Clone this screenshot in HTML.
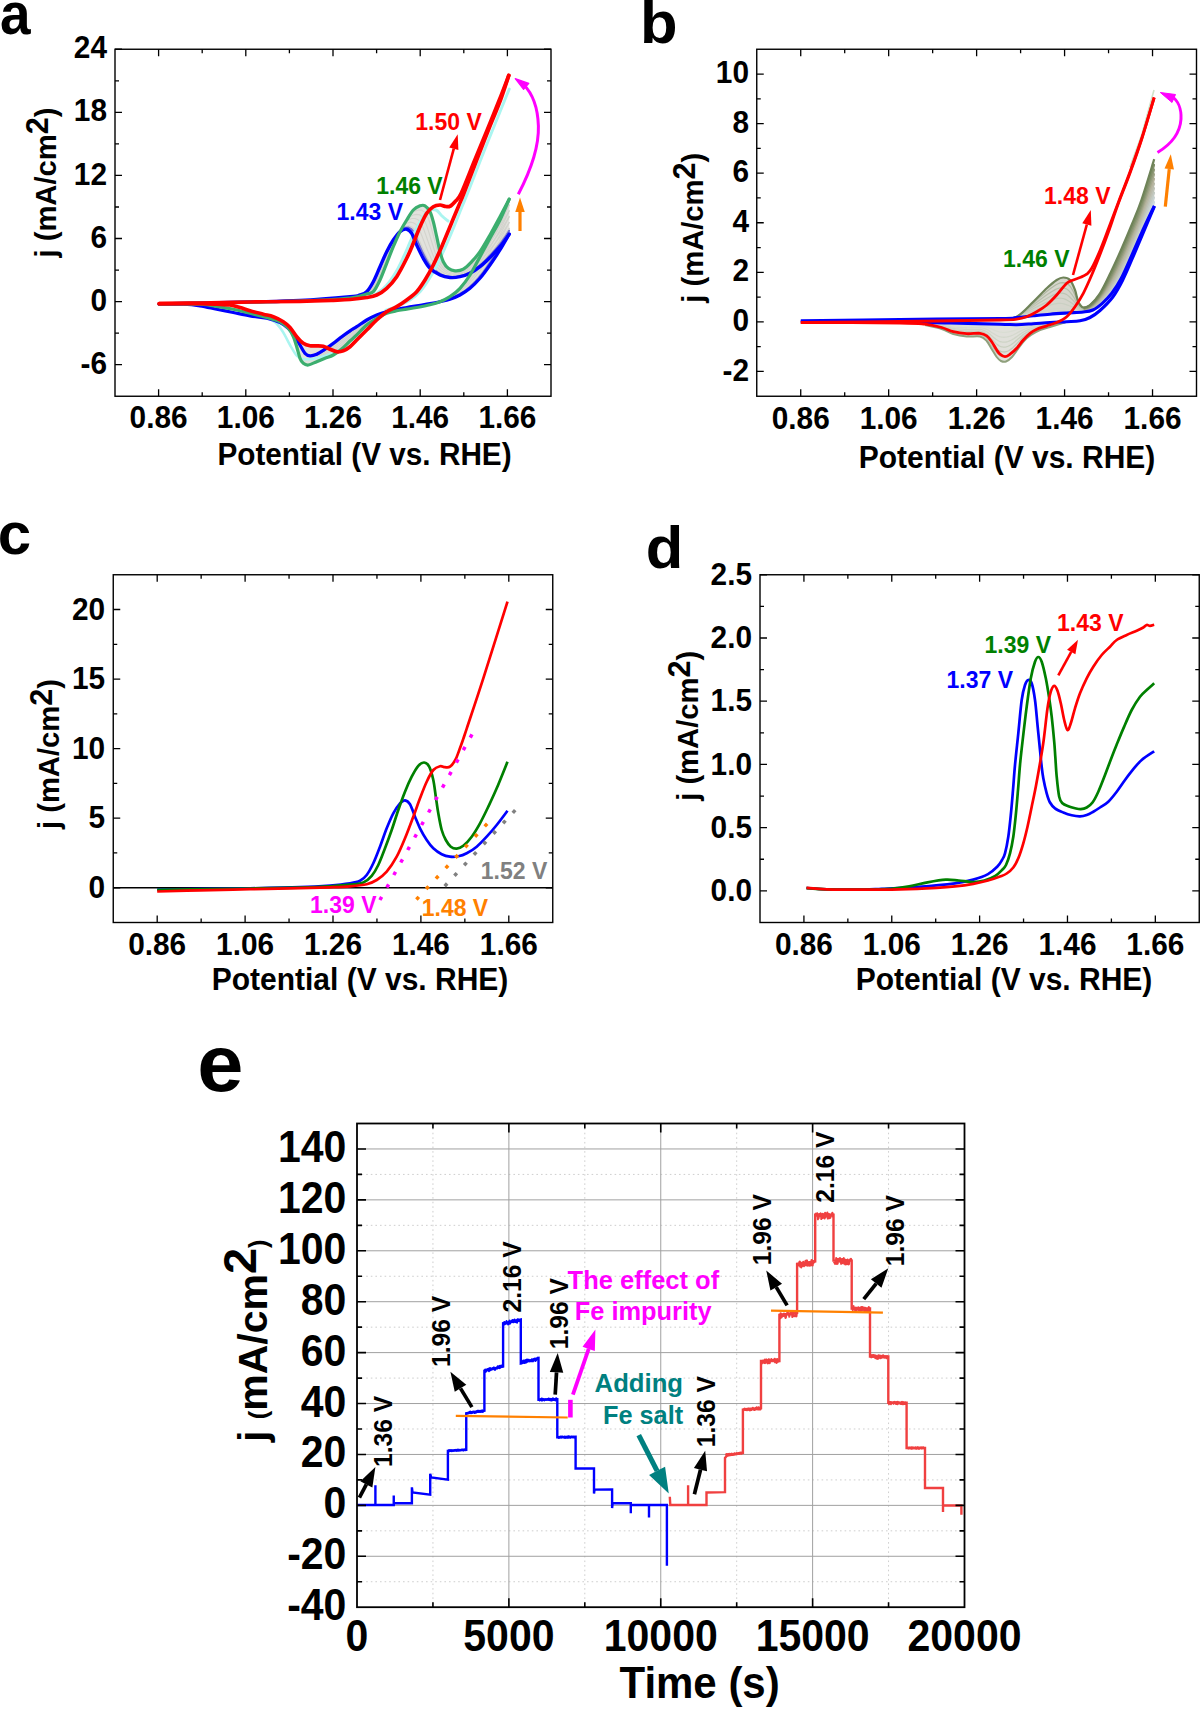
<!DOCTYPE html>
<html lang="en"><head><meta charset="utf-8"><title>Figure</title>
<style>
html,body{margin:0;padding:0;background:#fff;}
body{width:1200px;height:1709px;overflow:hidden;}
svg{display:block;font-family:"Liberation Sans",sans-serif;font-weight:bold;}
</style></head><body>
<svg width="1200" height="1709" viewBox="0 0 1200 1709">
<rect width="1200" height="1709" fill="#fff"/>
<rect x="115" y="49.25" width="436" height="347" fill="none" stroke="#000" stroke-width="1.4"/>
<path d="M158.6 396.25V389.25M158.6 49.25V56.25M245.8 396.25V389.25M245.8 49.25V56.25M333 396.25V389.25M333 49.25V56.25M420.2 396.25V389.25M420.2 49.25V56.25M507.4 396.25V389.25M507.4 49.25V56.25M202.2 396.25V392.25M202.2 49.25V53.25M289.4 396.25V392.25M289.4 49.25V53.25M376.6 396.25V392.25M376.6 49.25V53.25M463.8 396.25V392.25M463.8 49.25V53.25M115 364.7H122M551 364.7H544M115 301.61H122M551 301.61H544M115 238.52H122M551 238.52H544M115 175.43H122M551 175.43H544M115 112.34H122M551 112.34H544M115 49.25H122M551 49.25H544M115 333.16H119M551 333.16H547M115 270.07H119M551 270.07H547M115 206.98H119M551 206.98H547M115 143.89H119M551 143.89H547M115 80.8H119M551 80.8H547" stroke="#000" stroke-width="1.3" fill="none"/>
<text transform="translate(158.6 427.6) scale(1 1.06)" font-size="29.8" text-anchor="middle">0.86</text>
<text transform="translate(245.8 427.6) scale(1 1.06)" font-size="29.8" text-anchor="middle">1.06</text>
<text transform="translate(333 427.6) scale(1 1.06)" font-size="29.8" text-anchor="middle">1.26</text>
<text transform="translate(420.2 427.6) scale(1 1.06)" font-size="29.8" text-anchor="middle">1.46</text>
<text transform="translate(507.4 427.6) scale(1 1.06)" font-size="29.8" text-anchor="middle">1.66</text>
<text transform="translate(107 373.8) scale(1 1.06)" font-size="29.8" text-anchor="end">-6</text>
<text transform="translate(107 310.71) scale(1 1.06)" font-size="29.8" text-anchor="end">0</text>
<text transform="translate(107 247.62) scale(1 1.06)" font-size="29.8" text-anchor="end">6</text>
<text transform="translate(107 184.53) scale(1 1.06)" font-size="29.8" text-anchor="end">12</text>
<text transform="translate(107 121.44) scale(1 1.06)" font-size="29.8" text-anchor="end">18</text>
<text transform="translate(107 58.35) scale(1 1.06)" font-size="29.8" text-anchor="end">24</text>
<text transform="translate(364.5 465) scale(1 1.05)" font-size="29.75" text-anchor="middle">Potential (V vs. RHE)</text>
<text transform="translate(55.8 182.5) rotate(-90) scale(1 1.03)" font-size="29.2" text-anchor="middle">j (mA/cm<tspan dy="-7.3" font-size="30.66">2</tspan><tspan dy="7.3" font-size="29.2">)</tspan></text>
<text transform="translate(0 34.3) scale(1 1.09)" font-size="55">a</text>
<rect x="756.75" y="49.25" width="439.75" height="347" fill="none" stroke="#000" stroke-width="1.4"/>
<path d="M800.73 396.25V389.25M800.73 49.25V56.25M888.67 396.25V389.25M888.67 49.25V56.25M976.62 396.25V389.25M976.62 49.25V56.25M1064.58 396.25V389.25M1064.58 49.25V56.25M1152.53 396.25V389.25M1152.53 49.25V56.25M844.7 396.25V392.25M844.7 49.25V53.25M932.65 396.25V392.25M932.65 49.25V53.25M1020.6 396.25V392.25M1020.6 49.25V53.25M1108.55 396.25V392.25M1108.55 49.25V53.25M756.75 371.46H763.75M1196.5 371.46H1189.5M756.75 321.89H763.75M1196.5 321.89H1189.5M756.75 272.32H763.75M1196.5 272.32H1189.5M756.75 222.75H763.75M1196.5 222.75H1189.5M756.75 173.18H763.75M1196.5 173.18H1189.5M756.75 123.61H763.75M1196.5 123.61H1189.5M756.75 74.04H763.75M1196.5 74.04H1189.5M756.75 346.68H760.75M1196.5 346.68H1192.5M756.75 297.11H760.75M1196.5 297.11H1192.5M756.75 247.54H760.75M1196.5 247.54H1192.5M756.75 197.96H760.75M1196.5 197.96H1192.5M756.75 148.39H760.75M1196.5 148.39H1192.5M756.75 98.82H760.75M1196.5 98.82H1192.5" stroke="#000" stroke-width="1.3" fill="none"/>
<text transform="translate(800.73 429) scale(1 1.06)" font-size="29.8" text-anchor="middle">0.86</text>
<text transform="translate(888.67 429) scale(1 1.06)" font-size="29.8" text-anchor="middle">1.06</text>
<text transform="translate(976.62 429) scale(1 1.06)" font-size="29.8" text-anchor="middle">1.26</text>
<text transform="translate(1064.58 429) scale(1 1.06)" font-size="29.8" text-anchor="middle">1.46</text>
<text transform="translate(1152.53 429) scale(1 1.06)" font-size="29.8" text-anchor="middle">1.66</text>
<text transform="translate(749 380.56) scale(1 1.06)" font-size="29.8" text-anchor="end">-2</text>
<text transform="translate(749 330.99) scale(1 1.06)" font-size="29.8" text-anchor="end">0</text>
<text transform="translate(749 281.42) scale(1 1.06)" font-size="29.8" text-anchor="end">2</text>
<text transform="translate(749 231.85) scale(1 1.06)" font-size="29.8" text-anchor="end">4</text>
<text transform="translate(749 182.28) scale(1 1.06)" font-size="29.8" text-anchor="end">6</text>
<text transform="translate(749 132.71) scale(1 1.06)" font-size="29.8" text-anchor="end">8</text>
<text transform="translate(749 83.14) scale(1 1.06)" font-size="29.8" text-anchor="end">10</text>
<text transform="translate(1007 468) scale(1 1.05)" font-size="30" text-anchor="middle">Potential (V vs. RHE)</text>
<text transform="translate(702.5 227.7) rotate(-90) scale(1 1.03)" font-size="29.2" text-anchor="middle">j (mA/cm<tspan dy="-7.3" font-size="30.66">2</tspan><tspan dy="7.3" font-size="29.2">)</tspan></text>
<text transform="translate(640 42.5) scale(1 0.97)" font-size="61.5">b</text>
<rect x="113.25" y="574.75" width="439.5" height="347.75" fill="none" stroke="#000" stroke-width="1.4"/>
<path d="M157.2 922.5V915.5M157.2 574.75V581.75M245.1 922.5V915.5M245.1 574.75V581.75M333 922.5V915.5M333 574.75V581.75M420.9 922.5V915.5M420.9 574.75V581.75M508.8 922.5V915.5M508.8 574.75V581.75M201.15 922.5V918.5M201.15 574.75V578.75M289.05 922.5V918.5M289.05 574.75V578.75M376.95 922.5V918.5M376.95 574.75V578.75M464.85 922.5V918.5M464.85 574.75V578.75M113.25 887.73H120.25M552.75 887.73H545.75M113.25 818.17H120.25M552.75 818.17H545.75M113.25 748.62H120.25M552.75 748.62H545.75M113.25 679.08H120.25M552.75 679.08H545.75M113.25 609.52H120.25M552.75 609.52H545.75M113.25 852.95H117.25M552.75 852.95H548.75M113.25 783.4H117.25M552.75 783.4H548.75M113.25 713.85H117.25M552.75 713.85H548.75M113.25 644.3H117.25M552.75 644.3H548.75" stroke="#000" stroke-width="1.3" fill="none"/>
<text transform="translate(157.2 955) scale(1 1.06)" font-size="29.8" text-anchor="middle">0.86</text>
<text transform="translate(245.1 955) scale(1 1.06)" font-size="29.8" text-anchor="middle">1.06</text>
<text transform="translate(333 955) scale(1 1.06)" font-size="29.8" text-anchor="middle">1.26</text>
<text transform="translate(420.9 955) scale(1 1.06)" font-size="29.8" text-anchor="middle">1.46</text>
<text transform="translate(508.8 955) scale(1 1.06)" font-size="29.8" text-anchor="middle">1.66</text>
<text transform="translate(105.1 897.83) scale(1 1.06)" font-size="29.8" text-anchor="end">0</text>
<text transform="translate(105.1 828.27) scale(1 1.06)" font-size="29.8" text-anchor="end">5</text>
<text transform="translate(105.1 758.73) scale(1 1.06)" font-size="29.8" text-anchor="end">10</text>
<text transform="translate(105.1 689.18) scale(1 1.06)" font-size="29.8" text-anchor="end">15</text>
<text transform="translate(105.1 619.62) scale(1 1.06)" font-size="29.8" text-anchor="end">20</text>
<text transform="translate(360 990) scale(1 1.05)" font-size="30" text-anchor="middle">Potential (V vs. RHE)</text>
<text transform="translate(59.1 754) rotate(-90) scale(1 1.03)" font-size="29.2" text-anchor="middle">j (mA/cm<tspan dy="-7.3" font-size="30.66">2</tspan><tspan dy="7.3" font-size="29.2">)</tspan></text>
<text transform="translate(-2.3 553.5)" font-size="60">c</text>
<rect x="760" y="574.75" width="439.25" height="347.75" fill="none" stroke="#000" stroke-width="1.4"/>
<path d="M803.92 922.5V915.5M803.92 574.75V581.75M891.77 922.5V915.5M891.77 574.75V581.75M979.62 922.5V915.5M979.62 574.75V581.75M1067.47 922.5V915.5M1067.47 574.75V581.75M1155.33 922.5V915.5M1155.33 574.75V581.75M847.85 922.5V918.5M847.85 574.75V578.75M935.7 922.5V918.5M935.7 574.75V578.75M1023.55 922.5V918.5M1023.55 574.75V578.75M1111.4 922.5V918.5M1111.4 574.75V578.75M760 890.89H767M1199.25 890.89H1192.25M760 827.66H767M1199.25 827.66H1192.25M760 764.43H767M1199.25 764.43H1192.25M760 701.2H767M1199.25 701.2H1192.25M760 637.98H767M1199.25 637.98H1192.25M760 574.75H767M1199.25 574.75H1192.25M760 859.27H764M1199.25 859.27H1195.25M760 796.05H764M1199.25 796.05H1195.25M760 732.82H764M1199.25 732.82H1195.25M760 669.59H764M1199.25 669.59H1195.25M760 606.36H764M1199.25 606.36H1195.25" stroke="#000" stroke-width="1.3" fill="none"/>
<text transform="translate(803.92 955) scale(1 1.06)" font-size="29.8" text-anchor="middle">0.86</text>
<text transform="translate(891.77 955) scale(1 1.06)" font-size="29.8" text-anchor="middle">1.06</text>
<text transform="translate(979.62 955) scale(1 1.06)" font-size="29.8" text-anchor="middle">1.26</text>
<text transform="translate(1067.47 955) scale(1 1.06)" font-size="29.8" text-anchor="middle">1.46</text>
<text transform="translate(1155.33 955) scale(1 1.06)" font-size="29.8" text-anchor="middle">1.66</text>
<text transform="translate(752 900.99) scale(1 1.06)" font-size="29.8" text-anchor="end">0.0</text>
<text transform="translate(752 837.76) scale(1 1.06)" font-size="29.8" text-anchor="end">0.5</text>
<text transform="translate(752 774.53) scale(1 1.06)" font-size="29.8" text-anchor="end">1.0</text>
<text transform="translate(752 711.3) scale(1 1.06)" font-size="29.8" text-anchor="end">1.5</text>
<text transform="translate(752 648.08) scale(1 1.06)" font-size="29.8" text-anchor="end">2.0</text>
<text transform="translate(752 584.85) scale(1 1.06)" font-size="29.8" text-anchor="end">2.5</text>
<text transform="translate(1004 990) scale(1 1.05)" font-size="30" text-anchor="middle">Potential (V vs. RHE)</text>
<text transform="translate(698 725.8) rotate(-90) scale(1 1.03)" font-size="29.2" text-anchor="middle">j (mA/cm<tspan dy="-7.3" font-size="30.66">2</tspan><tspan dy="7.3" font-size="29.2">)</tspan></text>
<text transform="translate(645.7 567.5) scale(1 0.955)" font-size="61.5">d</text>
<path d="M432.94 1123.5V1607.2M584.81 1123.5V1607.2M736.69 1123.5V1607.2M888.56 1123.5V1607.2M357 1581.74H964.5M357 1530.83H964.5M357 1479.91H964.5M357 1428.99H964.5M357 1378.08H964.5M357 1327.16H964.5M357 1276.25H964.5M357 1225.33H964.5M357 1174.42H964.5" stroke="#cecece" stroke-width="1" stroke-dasharray="1.6 3" fill="none"/>
<path d="M508.88 1123.5V1607.2M660.75 1123.5V1607.2M812.62 1123.5V1607.2M357 1556.28H964.5M357 1505.37H964.5M357 1454.45H964.5M357 1403.54H964.5M357 1352.62H964.5M357 1301.71H964.5M357 1250.79H964.5M357 1199.87H964.5M357 1148.96H964.5" stroke="#a0a0a0" stroke-width="1" fill="none"/>
<g><path d="M366.7 291.7C367.8 290.03 371.08 285.87 373.3 281.7C375.52 277.53 377.77 271.7 380 266.7C382.23 261.7 384.48 256.15 386.7 251.7C388.92 247.25 391.08 243.33 393.3 240C395.52 236.67 397.77 233.5 400 231.7C402.23 229.9 404.75 228.93 406.7 229.2C408.65 229.47 410.03 230.67 411.7 233.3C413.37 235.93 414.77 240.83 416.7 245C418.63 249.17 421.08 254.42 423.3 258.3C425.52 262.18 427.22 265.52 430 268.3C432.78 271.08 436.67 273.47 440 275C443.33 276.53 446.67 277.22 450 277.5C453.33 277.78 456.67 277.4 460 276.7C463.33 276 466.67 274.97 470 273.3C473.33 271.63 476.67 269.33 480 266.7C483.33 264.07 486.67 260.83 490 257.5C493.33 254.17 496.8 250.58 500 246.7C503.2 242.82 507.67 236.28 509.2 234.2L509.2 199.2C507.67 202.12 503.2 210.73 500 216.7C496.8 222.67 493.33 229.17 490 235C486.67 240.83 483.05 247.25 480 251.7C476.95 256.15 474.48 258.78 471.7 261.7C468.92 264.62 466.08 267.68 463.3 269.2C460.52 270.72 457.5 270.95 455 270.8C452.5 270.65 450.25 269.82 448.3 268.3C446.35 266.78 444.68 264.47 443.3 261.7C441.92 258.93 441.1 255.87 440 251.7C438.9 247.53 437.82 241.7 436.7 236.7C435.58 231.7 434.42 225.87 433.3 221.7C432.18 217.53 431.38 214.35 430 211.7C428.62 209.05 426.67 206.78 425 205.8C423.33 204.82 421.95 205.1 420 205.8C418.05 206.5 415.52 207.63 413.3 210C411.08 212.37 408.92 216.38 406.7 220C404.48 223.62 402.23 227.25 400 231.7C397.77 236.15 395.52 241.43 393.3 246.7C391.08 251.97 388.92 257.75 386.7 263.3C384.48 268.85 382.23 275.27 380 280C377.77 284.73 374.42 289.75 373.3 291.7Z" fill="#e2e2dd" fill-opacity="1" stroke="none"/>
<path d="M509.2 234.2C507.67 236.83 503.2 244.87 500 250C496.8 255.13 493.33 260.28 490 265C486.67 269.72 483.33 274.42 480 278.3C476.67 282.18 473.33 285.52 470 288.3C466.67 291.08 463.33 293.18 460 295C456.67 296.82 453.33 298.08 450 299.2C446.67 300.32 443.33 300.95 440 301.7C436.67 302.45 433.88 303.02 430 303.7C426.12 304.38 420.58 305.17 416.7 305.8C412.82 306.43 410.03 306.93 406.7 307.5C403.37 308.07 400.03 308.5 396.7 309.2C393.37 309.9 390.03 310.73 386.7 311.7C383.37 312.67 380.03 313.62 376.7 315C373.37 316.38 370.03 318.05 366.7 320C363.37 321.95 359.48 324.9 356.7 326.7C353.92 328.5 352.5 329.13 350 330.8C347.5 332.47 344.48 334.62 341.7 336.7C338.92 338.78 336.08 341.22 333.3 343.3C330.52 345.38 327.77 347.38 325 349.2C322.23 351.02 318.08 353.37 316.7 354.2L316.7 361.7C318.08 361.13 322.23 359.42 325 358.3C327.77 357.18 330.52 356.55 333.3 355C336.08 353.45 338.92 351.33 341.7 349C344.48 346.67 347.5 343.33 350 341C352.5 338.67 353.92 337.67 356.7 335C359.48 332.33 363.37 327.78 366.7 325C370.03 322.22 373.37 320.25 376.7 318.3C380.03 316.35 383.37 314.55 386.7 313.3C390.03 312.05 393.37 311.48 396.7 310.8C400.03 310.12 403.37 309.75 406.7 309.2C410.03 308.65 412.82 308.25 416.7 307.5C420.58 306.75 426.12 305.67 430 304.7C433.88 303.73 436.67 303.03 440 301.7C443.33 300.37 446.67 298.93 450 296.7C453.33 294.47 456.67 291.92 460 288.3C463.33 284.68 466.67 280.27 470 275C473.33 269.73 476.67 262.82 480 256.7C483.33 250.58 486.67 244.42 490 238.3C493.33 232.18 496.8 226.52 500 220C503.2 213.48 507.67 202.67 509.2 199.2Z" fill="#e2e2dd" fill-opacity="1" stroke="none"/>
<path d="M341.7 336.7C340.3 337.8 336.08 341.22 333.3 343.3C330.52 345.38 327.77 347.38 325 349.2C322.23 351.02 319.2 353.1 316.7 354.2C314.2 355.3 311.95 355.95 310 355.8C308.05 355.65 306.67 355.1 305 353.3C303.33 351.5 301.67 347.77 300 345C298.33 342.23 296.95 339.48 295 336.7C293.05 333.92 290.8 330.67 288.3 328.3C285.8 325.93 283.6 324.17 280 322.5C276.4 320.83 271.7 319.42 266.7 318.3C261.7 317.18 255.57 316.77 250 315.8C244.43 314.83 236.08 313.05 233.3 312.5L250 313.3C252.78 314 261.7 316.1 266.7 317.5C271.7 318.9 276.4 319.9 280 321.7C283.6 323.5 286.08 325.8 288.3 328.3C290.52 330.8 291.9 333.63 293.3 336.7C294.7 339.77 295.58 343.1 296.7 346.7C297.82 350.3 298.9 355.53 300 358.3C301.1 361.07 301.92 362.18 303.3 363.3C304.68 364.42 306.07 365.27 308.3 365C310.53 364.73 313.92 362.82 316.7 361.7C319.48 360.58 322.23 359.42 325 358.3C327.77 357.18 330.52 356.55 333.3 355C336.08 353.45 340.3 350 341.7 349Z" fill="#e2e2dd" fill-opacity="1" stroke="none"/>
<path d="M330 349.2C328.88 348.72 325.52 346.87 323.3 346.3C321.08 345.73 318.92 345.88 316.7 345.8C314.48 345.72 312.23 346.22 310 345.8C307.77 345.38 305.52 344.82 303.3 343.3C301.08 341.78 298.92 339.33 296.7 336.7C294.48 334.07 292.23 330 290 327.5C287.77 325 286.08 323.5 283.3 321.7C280.52 319.9 276.63 317.95 273.3 316.7C269.97 315.45 264.97 314.62 263.3 314.2L233.3 312.5C236.08 313.05 244.43 314.83 250 315.8C255.57 316.77 261.7 317.18 266.7 318.3C271.7 319.42 276.4 320.83 280 322.5C283.6 324.17 285.8 325.93 288.3 328.3C290.8 330.67 293.05 333.92 295 336.7C296.95 339.48 298.33 342.23 300 345C301.67 347.77 303.33 351.5 305 353.3C306.67 355.1 308.05 355.65 310 355.8C311.95 355.95 315.58 354.47 316.7 354.2Z" fill="#e4e4de" fill-opacity="1" stroke="none"/>
<path d="M367.8 291.7L369.69 288.95L371.56 286.19L373.32 283.36L374.9 280.43L376.31 277.41L377.64 274.35L378.93 271.27L380.22 268.19L381.53 265.13L382.84 262.06L384.15 258.99L385.47 255.93L386.82 252.88L388.23 249.86L389.72 246.87L391.26 243.92L392.89 241.01L394.62 238.16L396.45 235.37L398.38 232.66L400.49 230.08L402.92 227.85L405.74 226.22L408.88 225.75L411.66 226.93L413.86 228.98L415.56 231.73L416.95 234.73L418.22 237.81L419.49 240.89L420.8 243.95L422.12 247.01L423.45 250.05L424.83 253.06L426.28 256.04L427.76 259L429.35 261.89L431.18 264.61L433.3 267.06L435.63 269.28L438.12 271.3L440.8 273.1L443.68 274.59L446.78 275.67L450.03 276.29L453.36 276.46L456.68 276.18L459.92 275.49L463.04 274.49L466.07 273.26L469.02 271.82L471.86 270.16L474.58 268.29L477.18 266.26L479.69 264.11L482.11 261.87L484.46 259.53L486.74 257.13L488.98 254.69L491.2 252.23L493.39 249.74L495.55 247.21L497.66 244.65L499.71 242.04L501.69 239.37L503.6 236.64L505.48 233.89L507.34 231.13L509.2 228.37" fill="none" stroke="#d3d3cd" stroke-width="1.1" stroke-linejoin="round" stroke-linecap="round"/>
<path d="M509.2 228.37L507.24 231.97L505.29 235.57L503.31 239.16L501.29 242.72L499.21 246.25L497.05 249.74L494.85 253.19L492.59 256.62L490.31 260.02L488.01 263.41L485.69 266.79L483.31 270.12L480.85 273.39L478.28 276.57L475.62 279.66L472.84 282.63L469.95 285.47L466.89 288.13L463.68 290.58L460.34 292.83L456.86 294.84L453.25 296.62L449.56 298.2L445.75 299.51L441.88 300.69L437.98 301.81L434.02 302.79L430.03 303.66L426.01 304.42L421.97 305.12L417.93 305.82L413.89 306.53L409.85 307.24L405.81 307.93L401.76 308.58L397.72 309.31L393.71 310.17L389.73 311.15L385.77 312.23L381.85 313.44L378.02 314.88L374.29 316.58L370.64 318.46L367.09 320.5L363.67 322.77L360.36 325.18L357.06 327.6L353.67 329.87L350.29 332.16L346.97 334.56L343.71 337.05L340.51 339.61L337.33 342.2L334.1 344.72L330.78 347.12L327.35 349.36L323.85 351.45L320.28 353.47L316.7 355.45" fill="none" stroke="#d3d3cd" stroke-width="1.1" stroke-linejoin="round" stroke-linecap="round"/>
<path d="M368.9 291.7L370.83 288.83L372.73 285.94L374.51 282.98L376.11 279.92L377.54 276.77L378.89 273.59L380.2 270.39L381.52 267.19L382.86 264L384.2 260.82L385.54 257.62L386.89 254.44L388.28 251.27L389.72 248.13L391.22 245.02L392.79 241.93L394.44 238.9L396.2 235.92L398.07 233.01L400.02 230.16L402.12 227.43L404.48 224.97L407.2 223.03L410.31 222.14L413.25 222.73L415.77 224.23L417.8 226.82L419.4 229.85L420.77 233.02L422.03 236.23L423.28 239.44L424.53 242.65L425.77 245.86L427.04 249.04L428.37 252.19L429.72 255.34L431.15 258.42L432.79 261.37L434.67 264.1L436.74 266.64L438.99 269L441.48 271.15L444.24 272.98L447.32 274.36L450.66 275.14L454.1 275.33L457.54 274.98L460.83 274.08L463.94 272.78L466.92 271.24L469.82 269.51L472.63 267.6L475.3 265.48L477.84 263.21L480.27 260.83L482.62 258.36L484.89 255.81L487.11 253.2L489.3 250.56L491.45 247.9L493.59 245.21L495.69 242.5L497.75 239.76L499.77 236.97L501.73 234.13L503.62 231.26L505.49 228.36L507.35 225.44L509.2 222.53" fill="none" stroke="#d3d3cd" stroke-width="1.1" stroke-linejoin="round" stroke-linecap="round"/>
<path d="M509.2 222.53L507.28 226.24L505.35 229.96L503.41 233.66L501.43 237.34L499.38 240.98L497.24 244.58L495.04 248.14L492.8 251.67L490.52 255.18L488.25 258.69L485.96 262.18L483.62 265.64L481.22 269.06L478.74 272.39L476.17 275.66L473.53 278.85L470.79 281.92L467.91 284.83L464.88 287.57L461.7 290.12L458.38 292.47L454.93 294.59L451.36 296.52L447.64 298.18L443.83 299.67L439.94 301.06L435.97 302.25L431.94 303.3L427.87 304.2L423.76 304.99L419.65 305.76L415.53 306.51L411.41 307.26L407.28 307.97L403.15 308.64L399.03 309.37L394.93 310.19L390.85 311.13L386.8 312.19L382.8 313.42L378.9 314.94L375.12 316.73L371.42 318.69L367.81 320.8L364.35 323.15L361.03 325.7L357.77 328.28L354.43 330.75L351.06 333.2L347.72 335.72L344.46 338.34L341.26 341.02L338.04 343.7L334.74 346.27L331.31 348.67L327.75 350.84L324.1 352.82L320.41 354.77L316.7 356.7" fill="none" stroke="#d3d3cd" stroke-width="1.1" stroke-linejoin="round" stroke-linecap="round"/>
<path d="M370 291.7L371.96 288.7L373.89 285.69L375.7 282.6L377.32 279.41L378.77 276.14L380.14 272.83L381.48 269.51L382.83 266.19L384.2 262.88L385.56 259.57L386.92 256.25L388.3 252.95L389.73 249.66L391.2 246.4L392.72 243.16L394.31 239.95L395.99 236.79L397.78 233.69L399.68 230.65L401.66 227.67L403.74 224.77L406.03 222.09L408.67 219.85L411.75 218.54L414.83 218.54L417.68 219.48L420.04 221.92L421.84 224.96L423.31 228.22L424.57 231.57L425.77 234.93L426.94 238.3L428.09 241.67L429.25 245.02L430.46 248.35L431.68 251.67L432.96 254.95L434.39 258.13L436.04 261.14L437.85 263.99L439.86 266.7L442.16 269.2L444.8 271.38L447.86 273.05L451.28 274L454.85 274.2L458.39 273.78L461.75 272.67L464.84 271.07L467.77 269.21L470.63 267.2L473.4 265.03L476.02 262.67L478.49 260.16L480.85 257.54L483.12 254.85L485.32 252.08L487.48 249.27L489.61 246.43L491.71 243.57L493.79 240.69L495.83 237.79L497.85 234.86L499.83 231.9L501.76 228.9L503.64 225.87L505.5 222.82L507.35 219.76L509.2 216.7" fill="none" stroke="#d3d3cd" stroke-width="1.1" stroke-linejoin="round" stroke-linecap="round"/>
<path d="M509.2 216.7L507.31 220.52L505.42 224.35L503.51 228.16L501.56 231.96L499.54 235.71L497.43 239.42L495.24 243.08L493 246.72L490.74 250.34L488.48 253.96L486.23 257.57L483.94 261.17L481.6 264.72L479.19 268.22L476.73 271.67L474.23 275.06L471.64 278.36L468.93 281.54L466.07 284.56L463.06 287.42L459.9 290.09L456.6 292.56L453.16 294.84L449.53 296.85L445.77 298.65L441.91 300.31L437.92 301.72L433.86 302.94L429.73 303.98L425.55 304.86L421.37 305.69L417.17 306.49L412.97 307.27L408.76 308.01L404.55 308.69L400.34 309.42L396.14 310.2L391.97 311.12L387.83 312.15L383.74 313.4L379.78 315L375.95 316.87L372.2 318.91L368.53 321.1L365.03 323.54L361.71 326.21L358.47 328.96L355.18 331.63L351.82 334.24L348.47 336.88L345.21 339.62L342.01 342.44L338.75 345.19L335.37 347.81L331.85 350.23L328.15 352.31L324.34 354.18L320.53 356.07L316.7 357.95" fill="none" stroke="#d3d3cd" stroke-width="1.1" stroke-linejoin="round" stroke-linecap="round"/>
<path d="M371.1 291.7L373.09 288.58L375.05 285.44L376.89 282.22L378.53 278.9L380 275.5L381.39 272.07L382.76 268.62L384.14 265.18L385.53 261.75L386.92 258.32L388.31 254.88L389.72 251.46L391.18 248.05L392.68 244.66L394.23 241.3L395.84 237.96L397.54 234.67L399.37 231.45L401.3 228.29L403.3 225.18L405.37 222.12L407.59 219.21L410.13 216.66L413.18 214.93L416.41 214.35L419.59 214.72L422.27 217.01L424.29 220.08L425.86 223.42L427.11 226.91L428.25 230.42L429.35 233.94L430.41 237.47L431.46 241L432.55 244.5L433.64 248.01L434.76 251.49L435.99 254.89L437.41 258.17L438.97 261.35L440.72 264.4L442.84 267.25L445.36 269.77L448.4 271.73L451.9 272.85L455.59 273.08L459.25 272.58L462.67 271.27L465.74 269.36L468.62 267.19L471.44 264.89L474.16 262.46L476.73 259.86L479.14 257.12L481.43 254.26L483.62 251.34L485.76 248.35L487.85 245.34L489.92 242.3L491.97 239.25L493.98 236.17L495.98 233.08L497.95 229.97L499.89 226.83L501.79 223.67L503.66 220.48L505.52 217.28L507.36 214.07L509.2 210.87" fill="none" stroke="#d3d3cd" stroke-width="1.1" stroke-linejoin="round" stroke-linecap="round"/>
<path d="M509.2 210.87L507.34 214.8L505.49 218.74L503.62 222.67L501.7 226.57L499.71 230.44L497.61 234.26L495.43 238.03L493.2 241.76L490.95 245.49L488.72 249.23L486.5 252.97L484.25 256.69L481.97 260.38L479.64 264.04L477.29 267.67L474.92 271.27L472.49 274.8L469.95 278.24L467.27 281.55L464.42 284.71L461.43 287.71L458.27 290.53L454.95 293.16L451.42 295.51L447.72 297.63L443.88 299.56L439.87 301.18L435.77 302.58L431.59 303.75L427.35 304.73L423.09 305.63L418.81 306.47L414.53 307.29L410.24 308.05L405.94 308.75L401.64 309.47L397.35 310.22L393.09 311.11L388.85 312.11L384.69 313.38L380.67 315.06L376.78 317.01L372.97 319.13L369.26 321.4L365.71 323.93L362.38 326.73L359.17 329.65L355.93 332.51L352.59 335.28L349.22 338.03L345.96 340.91L342.75 343.85L339.45 346.69L336.01 349.36L332.39 351.79L328.55 353.79L324.59 355.54L320.65 357.37L316.7 359.2" fill="none" stroke="#d3d3cd" stroke-width="1.1" stroke-linejoin="round" stroke-linecap="round"/>
<path d="M372.2 291.7L374.23 288.45L376.22 285.18L378.08 281.84L379.74 278.39L381.23 274.87L382.64 271.31L384.03 267.74L385.44 264.18L386.87 260.63L388.28 257.07L389.7 253.51L391.14 249.97L392.63 246.44L394.16 242.93L395.73 239.44L397.36 235.98L399.09 232.56L400.95 229.21L402.91 225.93L404.94 222.69L406.99 219.46L409.14 216.33L411.59 213.47L414.61 211.32L417.99 210.15L421.5 209.97L424.51 212.11L426.74 215.19L428.41 218.63L429.64 222.25L430.74 225.91L431.76 229.59L432.73 233.28L433.67 236.98L434.64 240.66L435.6 244.34L436.56 248.02L437.6 251.65L438.78 255.21L440.08 258.7L441.59 262.1L443.52 265.3L445.92 268.17L448.94 270.42L452.52 271.7L456.33 271.95L460.11 271.37L463.58 269.86L466.64 267.64L469.48 265.16L472.25 262.58L474.93 259.9L477.45 257.06L479.8 254.07L482.01 250.98L484.13 247.82L486.19 244.63L488.22 241.41L490.23 238.17L492.22 234.92L494.18 231.65L496.12 228.37L498.04 225.07L499.95 221.76L501.83 218.44L503.68 215.09L505.53 211.74L507.36 208.39L509.2 205.03" fill="none" stroke="#d3d3cd" stroke-width="1.1" stroke-linejoin="round" stroke-linecap="round"/>
<path d="M509.2 205.03L507.38 209.08L505.56 213.13L503.72 217.17L501.83 221.19L499.88 225.17L497.8 229.1L495.63 232.97L493.4 236.81L491.16 240.65L488.96 244.5L486.76 248.36L484.56 252.21L482.34 256.05L480.1 259.87L477.85 263.67L475.61 267.48L473.34 271.25L470.98 274.95L468.46 278.54L465.78 282L462.95 285.33L459.95 288.5L456.75 291.48L453.31 294.18L449.66 296.61L445.84 298.81L441.82 300.65L437.68 302.22L433.45 303.53L429.14 304.6L424.81 305.57L420.45 306.45L416.09 307.3L411.72 308.1L407.34 308.81L402.95 309.52L398.57 310.23L394.21 311.09L389.88 312.07L385.63 313.37L381.55 315.12L377.61 317.16L373.75 319.36L369.98 321.7L366.39 324.32L363.05 327.24L359.87 330.33L356.68 333.39L353.36 336.32L349.97 339.19L346.71 342.2L343.5 345.26L340.16 348.19L336.64 350.9L332.93 353.34L328.95 355.26L324.83 356.91L320.77 358.68L316.7 360.45" fill="none" stroke="#d3d3cd" stroke-width="1.1" stroke-linejoin="round" stroke-linecap="round"/>
<path d="M367.36 291.7L369.24 289.01L371.1 286.29L372.84 283.51L374.42 280.63L375.82 277.66L377.14 274.65L378.42 271.62L379.69 268.6L381 265.58L382.3 262.56L383.59 259.54L384.9 256.53L386.24 253.53L387.64 250.55L389.12 247.62L390.65 244.71L392.27 241.85L393.99 239.06L395.81 236.32L397.73 233.65L399.84 231.15L402.3 229.01L405.16 227.5L408.31 227.2L411.03 228.61L413.09 230.88L414.67 233.69L415.97 236.69L417.2 239.73L418.48 242.76L419.81 245.76L421.15 248.75L422.52 251.72L423.95 254.67L425.45 257.58L426.98 260.47L428.63 263.28L430.54 265.9L432.75 268.25L435.18 270.34L437.78 272.22L440.53 273.88L443.46 275.23L446.56 276.2L449.79 276.75L453.07 276.91L456.34 276.66L459.55 276.05L462.67 275.17L465.72 274.07L468.69 272.74L471.56 271.19L474.3 269.41L476.92 267.48L479.46 265.42L481.91 263.27L484.28 261.02L486.59 258.71L488.86 256.34L491.1 253.96L493.31 251.54L495.49 249.1L497.62 246.61L499.69 244.07L501.68 241.46L503.6 238.8L505.48 236.11L507.34 233.4L509.2 230.7" fill="none" stroke="#6f6fd0" stroke-width="1.6" stroke-linejoin="round" stroke-linecap="round"/>
<path d="M509.2 230.7L507.23 234.25L505.26 237.81L503.27 241.35L501.24 244.88L499.14 248.36L496.98 251.8L494.77 255.22L492.51 258.6L490.22 261.96L487.91 265.3L485.58 268.63L483.19 271.91L480.7 275.13L478.1 278.24L475.39 281.26L472.57 284.15L469.61 286.9L466.48 289.45L463.2 291.78L459.79 293.91L456.25 295.79L452.59 297.44L448.84 298.87L444.99 300.05L441.1 301.1L437.19 302.11L433.24 303.01L429.26 303.8L425.26 304.51L421.25 305.18L417.24 305.84L413.23 306.54L409.22 307.24L405.21 307.91L401.2 308.55L397.2 309.29L393.23 310.16L389.28 311.15L385.36 312.24L381.48 313.44L377.67 314.86L373.96 316.52L370.33 318.37L366.8 320.38L363.4 322.61L360.09 324.97L356.78 327.32L353.37 329.52L349.98 331.75L346.67 334.1L343.41 336.53L340.21 339.04L337.05 341.6L333.85 344.1L330.56 346.5L327.2 348.77L323.75 350.91L320.24 352.95L316.7 354.95" fill="none" stroke="#6f6fd0" stroke-width="1.6" stroke-linejoin="round" stroke-linecap="round"/>
<path d="M509.3 89C506.52 95.83 497.38 118.17 492.6 130C487.82 141.83 484.77 149.45 480.6 160C476.43 170.55 470.7 185.52 467.6 193.3C464.5 201.08 464.27 201.13 462 206.7C459.73 212.27 456.75 220.03 454 226.7C451.25 233.37 448.33 240.32 445.5 246.7C442.67 253.08 439.83 259.45 437 265C434.17 270.55 431.33 275.55 428.5 280C425.67 284.45 423.08 288.37 420 291.7C416.92 295.03 413.67 297.62 410 300C406.33 302.38 402 304.33 398 306C394 307.67 388 309.33 386 310" fill="none" stroke="#aaf5f0" stroke-width="2.9" stroke-linejoin="round" stroke-linecap="round"/>
<path d="M376 294C377.67 292.67 382.67 289.67 386 286C389.33 282.33 393 277 396 272C399 267 401.33 261.67 404 256C406.67 250.33 409.33 243.67 412 238C414.67 232.33 417.33 226.5 420 222C422.67 217.5 425.33 213 428 211C430.67 209 433.67 209.17 436 210C438.33 210.83 440 214.17 442 216C444 217.83 447 220.17 448 221" fill="none" stroke="#aaf5f0" stroke-width="3" stroke-linejoin="round" stroke-linecap="round"/>
<path d="M268 318C269.33 318.83 273.5 320.67 276 323C278.5 325.33 280.67 328.33 283 332C285.33 335.67 287.67 341 290 345C292.33 349 294.83 353.67 297 356C299.17 358.33 300.5 358.5 303 359C305.5 359.5 308.33 359.5 312 359C315.67 358.5 320.33 357.5 325 356C329.67 354.5 337.5 351 340 350" fill="none" stroke="#aaf5f0" stroke-width="2.5" stroke-linejoin="round" stroke-linecap="round"/>
<path d="M159.2 304C174.33 303.67 226.53 302.58 250 302C273.47 301.42 283.33 301.38 300 300.5C316.67 299.62 340 297.62 350 296.7C360 295.78 357.22 295.83 360 295C362.78 294.17 364.48 293.92 366.7 291.7C368.92 289.48 371.08 285.87 373.3 281.7C375.52 277.53 377.77 271.7 380 266.7C382.23 261.7 384.48 256.15 386.7 251.7C388.92 247.25 391.08 243.33 393.3 240C395.52 236.67 397.77 233.5 400 231.7C402.23 229.9 404.75 228.93 406.7 229.2C408.65 229.47 410.03 230.67 411.7 233.3C413.37 235.93 414.77 240.83 416.7 245C418.63 249.17 421.08 254.42 423.3 258.3C425.52 262.18 427.22 265.52 430 268.3C432.78 271.08 436.67 273.47 440 275C443.33 276.53 446.67 277.22 450 277.5C453.33 277.78 456.67 277.4 460 276.7C463.33 276 466.67 274.97 470 273.3C473.33 271.63 476.67 269.33 480 266.7C483.33 264.07 486.67 260.83 490 257.5C493.33 254.17 496.8 250.58 500 246.7C503.2 242.82 507.67 236.28 509.2 234.2" fill="none" stroke="#0000ff" stroke-width="3.4" stroke-linejoin="round" stroke-linecap="round"/>
<path d="M509.2 234.2C507.67 236.83 503.2 244.87 500 250C496.8 255.13 493.33 260.28 490 265C486.67 269.72 483.33 274.42 480 278.3C476.67 282.18 473.33 285.52 470 288.3C466.67 291.08 463.33 293.18 460 295C456.67 296.82 453.33 298.08 450 299.2C446.67 300.32 443.33 300.95 440 301.7C436.67 302.45 433.88 303.02 430 303.7C426.12 304.38 420.58 305.17 416.7 305.8C412.82 306.43 410.03 306.93 406.7 307.5C403.37 308.07 400.03 308.5 396.7 309.2C393.37 309.9 390.03 310.73 386.7 311.7C383.37 312.67 380.03 313.62 376.7 315C373.37 316.38 370.03 318.05 366.7 320C363.37 321.95 359.48 324.9 356.7 326.7C353.92 328.5 352.5 329.13 350 330.8C347.5 332.47 344.48 334.62 341.7 336.7C338.92 338.78 336.08 341.22 333.3 343.3C330.52 345.38 327.77 347.38 325 349.2C322.23 351.02 319.2 353.1 316.7 354.2C314.2 355.3 311.95 355.95 310 355.8C308.05 355.65 306.67 355.1 305 353.3C303.33 351.5 301.67 347.77 300 345C298.33 342.23 296.95 339.48 295 336.7C293.05 333.92 290.8 330.67 288.3 328.3C285.8 325.93 283.6 324.17 280 322.5C276.4 320.83 271.7 319.42 266.7 318.3C261.7 317.18 255.57 316.77 250 315.8C244.43 314.83 238.85 313.6 233.3 312.5C227.75 311.4 222.25 310.32 216.7 309.2C211.15 308.08 205.57 306.63 200 305.8C194.43 304.97 190.1 304.47 183.3 304.2C176.5 303.93 163.22 304.2 159.2 304.2" fill="none" stroke="#0000ff" stroke-width="3.2" stroke-linejoin="round" stroke-linecap="round"/>
<path d="M159.2 303.9C182.67 303.42 268.2 301.98 300 301C331.8 300.02 338.88 299.17 350 298C361.12 296.83 362.82 295.05 366.7 294C370.58 292.95 371.08 294.03 373.3 291.7C375.52 289.37 377.77 284.73 380 280C382.23 275.27 384.48 268.85 386.7 263.3C388.92 257.75 391.08 251.97 393.3 246.7C395.52 241.43 397.77 236.15 400 231.7C402.23 227.25 404.48 223.62 406.7 220C408.92 216.38 411.08 212.37 413.3 210C415.52 207.63 418.05 206.5 420 205.8C421.95 205.1 423.33 204.82 425 205.8C426.67 206.78 428.62 209.05 430 211.7C431.38 214.35 432.18 217.53 433.3 221.7C434.42 225.87 435.58 231.7 436.7 236.7C437.82 241.7 438.9 247.53 440 251.7C441.1 255.87 441.92 258.93 443.3 261.7C444.68 264.47 446.35 266.78 448.3 268.3C450.25 269.82 452.5 270.65 455 270.8C457.5 270.95 460.52 270.72 463.3 269.2C466.08 267.68 468.92 264.62 471.7 261.7C474.48 258.78 476.95 256.15 480 251.7C483.05 247.25 486.67 240.83 490 235C493.33 229.17 496.8 222.67 500 216.7C503.2 210.73 507.67 202.12 509.2 199.2" fill="none" stroke="#3cae6e" stroke-width="3.2" stroke-linejoin="round" stroke-linecap="round"/>
<path d="M509.2 199.2C507.67 202.67 503.2 213.48 500 220C496.8 226.52 493.33 232.18 490 238.3C486.67 244.42 483.33 250.58 480 256.7C476.67 262.82 473.33 269.73 470 275C466.67 280.27 463.33 284.68 460 288.3C456.67 291.92 453.33 294.47 450 296.7C446.67 298.93 443.33 300.37 440 301.7C436.67 303.03 433.88 303.73 430 304.7C426.12 305.67 420.58 306.75 416.7 307.5C412.82 308.25 410.03 308.65 406.7 309.2C403.37 309.75 400.03 310.12 396.7 310.8C393.37 311.48 390.03 312.05 386.7 313.3C383.37 314.55 380.03 316.35 376.7 318.3C373.37 320.25 370.03 322.22 366.7 325C363.37 327.78 359.48 332.33 356.7 335C353.92 337.67 352.5 338.67 350 341C347.5 343.33 344.48 346.67 341.7 349C338.92 351.33 336.08 353.45 333.3 355C330.52 356.55 327.77 357.18 325 358.3C322.23 359.42 319.48 360.58 316.7 361.7C313.92 362.82 310.53 364.73 308.3 365C306.07 365.27 304.68 364.42 303.3 363.3C301.92 362.18 301.1 361.07 300 358.3C298.9 355.53 297.82 350.3 296.7 346.7C295.58 343.1 294.7 339.77 293.3 336.7C291.9 333.63 290.52 330.8 288.3 328.3C286.08 325.8 283.6 323.5 280 321.7C276.4 319.9 271.7 318.9 266.7 317.5C261.7 316.1 255.57 314.68 250 313.3C244.43 311.92 238.85 310.37 233.3 309.2C227.75 308.03 222.25 307.13 216.7 306.3C211.15 305.47 209.58 304.58 200 304.2C190.42 303.82 166 304.03 159.2 304" fill="none" stroke="#3cae6e" stroke-width="3.2" stroke-linejoin="round" stroke-linecap="round"/>
<path d="M508.8 75.4C507.42 79.5 503.9 90.9 500.5 100C497.1 109.1 492.37 120 488.4 130C484.43 140 480.78 149.45 476.7 160C472.62 170.55 466.97 185.52 463.9 193.3C460.83 201.08 460.62 201.13 458.3 206.7C455.98 212.27 452.77 220.03 450 226.7C447.23 233.37 444.48 240.32 441.7 246.7C438.92 253.08 436.08 259.45 433.3 265C430.52 270.55 427.77 275.55 425 280C422.23 284.45 419.75 288.37 416.7 291.7C413.65 295.03 410.03 297.5 406.7 300C403.37 302.5 400.03 304.75 396.7 306.7C393.37 308.65 390.03 309.48 386.7 311.7C383.37 313.92 380.03 316.95 376.7 320C373.37 323.05 370.03 326.67 366.7 330C363.37 333.33 359.48 337.22 356.7 340C353.92 342.78 352.23 344.9 350 346.7C347.77 348.5 345.52 349.97 343.3 350.8C341.08 351.63 338.92 351.97 336.7 351.7C334.48 351.43 332.23 350.1 330 349.2C327.77 348.3 325.52 346.87 323.3 346.3C321.08 345.73 318.92 345.88 316.7 345.8C314.48 345.72 312.23 346.22 310 345.8C307.77 345.38 305.52 344.82 303.3 343.3C301.08 341.78 298.92 339.33 296.7 336.7C294.48 334.07 292.23 330 290 327.5C287.77 325 286.08 323.5 283.3 321.7C280.52 319.9 276.63 317.95 273.3 316.7C269.97 315.45 267.18 315.18 263.3 314.2C259.42 313.22 253.88 311.92 250 310.8C246.12 309.68 243.33 308.47 240 307.5C236.67 306.53 233.88 305.55 230 305C226.12 304.45 221.7 304.42 216.7 304.2C211.7 303.98 209.58 303.78 200 303.7C190.42 303.62 166 303.7 159.2 303.7" fill="none" stroke="#ff0000" stroke-width="3.7" stroke-linejoin="round" stroke-linecap="round"/>
<path d="M159.2 303.7C166 303.58 184.87 303.28 200 303C215.13 302.72 233.33 302.28 250 302C266.67 301.72 286.12 301.58 300 301.3C313.88 301.02 324.97 300.6 333.3 300.3C341.63 300 344.43 299.97 350 299.5C355.57 299.03 362.25 298.25 366.7 297.5C371.15 296.75 373.37 296.53 376.7 295C380.03 293.47 383.37 291.35 386.7 288.3C390.03 285.25 393.37 281.7 396.7 276.7C400.03 271.7 403.93 263.87 406.7 258.3C409.47 252.73 411.08 248.57 413.3 243.3C415.52 238.03 417.77 231.7 420 226.7C422.23 221.7 424.48 216.63 426.7 213.3C428.92 209.97 431.08 208.08 433.3 206.7C435.52 205.32 438.05 205.07 440 205C441.95 204.93 443.33 206.08 445 206.3C446.67 206.52 448.33 207.07 450 206.3C451.67 205.53 453.13 203.87 455 201.7C456.87 199.53 457.9 200.25 461.2 193.3C464.5 186.35 470.47 170.55 474.8 160C479.13 149.45 483.12 140 487.2 130C491.28 120 495.7 109.1 499.3 100C502.9 90.9 507.22 79.5 508.8 75.4" fill="none" stroke="#ff0000" stroke-width="3.7" stroke-linejoin="round" stroke-linecap="round"/>
<text transform="translate(415.3 130) scale(1 1.05)" font-size="23" fill="#ff0000">1.50 V</text>
<text transform="translate(376.2 193.5) scale(1 1.05)" font-size="23" fill="#008000">1.46 V</text>
<text transform="translate(336.5 220) scale(1 1.05)" font-size="23" fill="#0000ff">1.43 V</text>
<line x1="440" y1="200" x2="453.8" y2="148.69" stroke="#ff0000" stroke-width="2.6"/><polygon points="457.7,134.2 458.39,149.92 453.8,148.69 449.22,147.45" fill="#ff0000"/>
<line x1="520" y1="231" x2="520" y2="212" stroke="#ff8000" stroke-width="3.2"/><polygon points="520,197.5 524.75,212 520,212 515.25,212" fill="#ff8000"/>
<path d="M518.3 194.2C531 170 539 147 538.4 126C537.8 107 532 93 523.5 84.5" fill="none" stroke="#ff00ff" stroke-width="3"/>
<polygon points="515.2,78.6 528.8,83.4 523.6,89.4" fill="#ff00ff" stroke="#ff00ff" stroke-width="1.2" stroke-linejoin="round"/></g>
<g><path d="M1000 319C1002.78 318.62 1011.15 319.58 1016.7 316.7C1022.25 313.82 1028.3 306.43 1033.3 301.7C1038.3 296.97 1042.8 291.92 1046.7 288.3C1050.6 284.68 1053.93 281.8 1056.7 280C1059.47 278.2 1061.08 277.5 1063.3 277.5C1065.52 277.5 1068.05 277.92 1070 280C1071.95 282.08 1073.62 286.38 1075 290C1076.38 293.62 1076.92 298.78 1078.3 301.7C1079.68 304.62 1081.35 306.95 1083.3 307.5C1085.25 308.05 1087.22 307.37 1090 305C1092.78 302.63 1096.62 298.58 1100 293.3C1103.38 288.02 1106.8 280.52 1110.3 273.3C1113.8 266.08 1117.45 258.05 1121 250C1124.55 241.95 1128.2 233.33 1131.6 225C1135 216.67 1137.63 210.97 1141.4 200C1145.17 189.03 1152.07 166 1154.2 159.2L1154.3 205.8C1152.15 210.38 1145.25 224.82 1141.4 233.3C1137.55 241.78 1134.55 249.2 1131.2 256.7C1127.85 264.2 1124.53 272.2 1121.3 278.3C1118.07 284.4 1114.97 289.13 1111.8 293.3C1108.63 297.47 1105.47 300.52 1102.3 303.3C1099.13 306.08 1095.97 308.55 1092.8 310C1089.63 311.45 1087.65 311.5 1083.3 312C1078.95 312.5 1072.25 312.63 1066.7 313C1061.15 313.37 1055.57 313.73 1050 314.2C1044.43 314.67 1038.85 315.25 1033.3 315.8C1027.75 316.35 1022.25 317.05 1016.7 317.5C1011.15 317.95 1002.78 318.33 1000 318.5Z" fill="#d6d6cd" fill-opacity="1" stroke="none"/>
<path d="M925 325C927.78 325.67 936.98 327.5 941.7 329C946.42 330.5 949.13 332.75 953.3 334C957.47 335.25 962.25 336.08 966.7 336.5C971.15 336.92 976.67 335.75 980 336.5C983.33 337.25 984.75 338.92 986.7 341C988.65 343.08 990.03 346.33 991.7 349C993.37 351.67 995.15 355 996.7 357C998.25 359 999.45 360.25 1001 361C1002.55 361.75 1004.17 362.17 1006 361.5C1007.83 360.83 1010 359.08 1012 357C1014 354.92 1016 351.67 1018 349C1020 346.33 1021.83 343.33 1024 341C1026.17 338.67 1028.33 336.83 1031 335C1033.67 333.17 1036.83 331.33 1040 330C1043.17 328.67 1045.67 328.33 1050 327C1054.33 325.67 1063.33 322.83 1066 322L1066 321.5C1042.5 321.75 948.5 322.75 925 323Z" fill="#e0e0da" fill-opacity="1" stroke="none"/>
<path d="M925 322.81L926.88 322.87L929.52 322.94L932.62 323.02L935.89 323.12L939.02 323.22L941.7 323.31L943.91 323.41L945.88 323.52L947.71 323.64L949.49 323.75L951.32 323.85L953.3 323.94L955.43 324.01L957.64 324.08L959.89 324.13L962.17 324.18L964.45 324.22L966.7 324.25L969 324.26L971.39 324.25L973.77 324.23L976.06 324.22L978.17 324.22L980 324.25L981.52 324.31L982.79 324.38L983.87 324.47L984.84 324.57L985.76 324.69L986.7 324.81L987.63 324.95L988.49 325.11L989.31 325.29L990.1 325.46L990.89 325.64L991.7 325.81L992.54 325.98L993.39 326.16L994.24 326.34L995.09 326.52L995.91 326.67L996.7 326.81L997.45 326.93L998.16 327.03L998.85 327.12L999.54 327.2L1000.25 327.26L1001 327.31L1001.78 327.36L1002.58 327.39L1003.39 327.41L1004.23 327.42L1005.1 327.41L1006 327.38L1006.94 327.32L1007.93 327.25L1008.94 327.16L1009.96 327.06L1010.99 326.94L1012 326.81L1013 326.67L1014 326.51L1015 326.34L1016 326.16L1017 325.98L1018 325.81L1018.99 325.64L1019.96 325.47L1020.94 325.3L1021.93 325.13L1022.94 324.96L1024 324.81L1025.09 324.67L1026.19 324.54L1027.31 324.41L1028.48 324.29L1029.71 324.18L1031 324.06L1032.37 323.95L1033.81 323.84L1035.31 323.73L1036.85 323.62L1038.42 323.53L1040 323.44L1041.54 323.36L1043.04 323.3L1044.56 323.25L1046.19 323.2L1047.97 323.14L1050 323.06L1052.5 322.97L1055.48 322.85L1058.62 322.73L1061.63 322.61L1064.19 322.51L1066 322.44" fill="none" stroke="#dfe2da" stroke-width="1.3" stroke-linejoin="round" stroke-linecap="butt"/>
<path d="M925 323.12L926.88 323.23L929.52 323.38L932.62 323.55L935.89 323.74L939.02 323.93L941.7 324.12L943.91 324.33L945.88 324.55L947.71 324.77L949.49 325L951.32 325.2L953.3 325.38L955.43 325.52L957.64 325.65L959.89 325.77L962.17 325.86L964.45 325.94L966.7 326L969 326.02L971.39 326L973.77 325.97L976.06 325.94L978.17 325.94L980 326L981.52 326.11L982.79 326.26L983.87 326.44L984.84 326.64L985.76 326.87L986.7 327.12L987.63 327.41L988.49 327.73L989.31 328.07L990.1 328.43L990.89 328.78L991.7 329.12L992.54 329.47L993.39 329.83L994.24 330.19L995.09 330.53L995.91 330.85L996.7 331.12L997.45 331.36L998.16 331.56L998.85 331.74L999.54 331.89L1000.25 332.02L1001 332.12L1001.78 332.21L1002.58 332.28L1003.39 332.32L1004.23 332.33L1005.1 332.31L1006 332.25L1006.94 332.14L1007.93 332L1008.94 331.82L1009.96 331.61L1010.99 331.38L1012 331.12L1013 330.84L1014 330.52L1015 330.18L1016 329.82L1017 329.47L1018 329.12L1018.99 328.79L1019.96 328.44L1020.94 328.09L1021.93 327.75L1022.94 327.43L1024 327.12L1025.09 326.84L1026.19 326.58L1027.31 326.33L1028.48 326.09L1029.71 325.85L1031 325.62L1032.37 325.4L1033.81 325.17L1035.31 324.95L1036.85 324.75L1038.42 324.55L1040 324.38L1041.54 324.23L1043.04 324.11L1044.56 324L1046.19 323.89L1047.97 323.77L1050 323.62L1052.5 323.43L1055.48 323.2L1058.62 322.95L1061.63 322.72L1064.19 322.52L1066 322.38" fill="none" stroke="#d9ddd3" stroke-width="1.3" stroke-linejoin="round" stroke-linecap="butt"/>
<path d="M925 323.44L926.88 323.6L929.52 323.81L932.62 324.07L935.89 324.35L939.02 324.65L941.7 324.94L943.91 325.24L945.88 325.57L947.71 325.91L949.49 326.24L951.32 326.55L953.3 326.81L955.43 327.03L957.64 327.23L959.89 327.4L962.17 327.54L964.45 327.66L966.7 327.75L969 327.78L971.39 327.76L973.77 327.7L976.06 327.66L978.17 327.66L980 327.75L981.52 327.92L982.79 328.14L983.87 328.41L984.84 328.72L985.76 329.06L986.7 329.44L987.63 329.86L988.49 330.34L989.31 330.86L990.1 331.39L990.89 331.92L991.7 332.44L992.54 332.95L993.39 333.49L994.24 334.03L995.09 334.55L995.91 335.02L996.7 335.44L997.45 335.79L998.16 336.1L998.85 336.36L999.54 336.59L1000.25 336.78L1001 336.94L1001.78 337.07L1002.58 337.17L1003.39 337.23L1004.23 337.25L1005.1 337.22L1006 337.12L1006.94 336.97L1007.93 336.75L1008.94 336.48L1009.96 336.17L1010.99 335.82L1012 335.44L1013 335.01L1014 334.53L1015 334.02L1016 333.49L1017 332.95L1018 332.44L1018.99 331.93L1019.96 331.41L1020.94 330.89L1021.93 330.38L1022.94 329.89L1024 329.44L1025.09 329.01L1026.19 328.62L1027.31 328.24L1028.48 327.88L1029.71 327.53L1031 327.19L1032.37 326.84L1033.81 326.51L1035.31 326.18L1036.85 325.87L1038.42 325.58L1040 325.31L1041.54 325.09L1043.04 324.91L1044.56 324.75L1046.19 324.59L1047.97 324.41L1050 324.19L1052.5 323.9L1055.48 323.55L1058.62 323.18L1061.63 322.83L1064.19 322.53L1066 322.31" fill="none" stroke="#d4d8cd" stroke-width="1.3" stroke-linejoin="round" stroke-linecap="butt"/>
<path d="M925 323.75L926.88 323.96L929.52 324.25L932.62 324.59L935.89 324.97L939.02 325.36L941.7 325.75L943.91 326.15L945.88 326.59L947.71 327.05L949.49 327.49L951.32 327.9L953.3 328.25L955.43 328.55L957.64 328.81L959.89 329.03L962.17 329.22L964.45 329.38L966.7 329.5L969 329.55L971.39 329.51L973.77 329.44L976.06 329.38L978.17 329.38L980 329.5L981.52 329.72L982.79 330.02L983.87 330.38L984.84 330.79L985.76 331.25L986.7 331.75L987.63 332.32L988.49 332.95L989.31 333.64L990.1 334.35L990.89 335.06L991.7 335.75L992.54 336.44L993.39 337.16L994.24 337.88L995.09 338.56L995.91 339.2L996.7 339.75L997.45 340.22L998.16 340.63L998.85 340.98L999.54 341.29L1000.25 341.54L1001 341.75L1001.78 341.92L1002.58 342.06L1003.39 342.14L1004.23 342.17L1005.1 342.12L1006 342L1006.94 341.79L1007.93 341.5L1008.94 341.14L1009.96 340.72L1010.99 340.26L1012 339.75L1013 339.18L1014 338.55L1015 337.86L1016 337.15L1017 336.44L1018 335.75L1018.99 335.07L1019.96 334.38L1020.94 333.69L1021.93 333.01L1022.94 332.36L1024 331.75L1025.09 331.19L1026.19 330.66L1027.31 330.16L1028.48 329.68L1029.71 329.21L1031 328.75L1032.37 328.29L1033.81 327.84L1035.31 327.41L1036.85 326.99L1038.42 326.6L1040 326.25L1041.54 325.95L1043.04 325.71L1044.56 325.5L1046.19 325.29L1047.97 325.05L1050 324.75L1052.5 324.36L1055.48 323.9L1058.62 323.41L1061.63 322.94L1064.19 322.53L1066 322.25" fill="none" stroke="#ced4c6" stroke-width="1.3" stroke-linejoin="round" stroke-linecap="butt"/>
<path d="M925 324.06L926.88 324.33L929.52 324.69L932.62 325.12L935.89 325.59L939.02 326.08L941.7 326.56L943.91 327.07L945.88 327.62L947.71 328.18L949.49 328.74L951.32 329.25L953.3 329.69L955.43 330.06L957.64 330.38L959.89 330.66L962.17 330.9L964.45 331.1L966.7 331.25L969 331.31L971.39 331.26L973.77 331.17L976.06 331.1L978.17 331.11L980 331.25L981.52 331.53L982.79 331.9L983.87 332.34L984.84 332.86L985.76 333.43L986.7 334.06L987.63 334.77L988.49 335.57L989.31 336.43L990.1 337.31L990.89 338.2L991.7 339.06L992.54 339.92L993.39 340.82L994.24 341.72L995.09 342.58L995.91 343.37L996.7 344.06L997.45 344.65L998.16 345.16L998.85 345.61L999.54 345.98L1000.25 346.3L1001 346.56L1001.78 346.78L1002.58 346.94L1003.39 347.05L1004.23 347.08L1005.1 347.03L1006 346.88L1006.94 346.61L1007.93 346.25L1008.94 345.8L1009.96 345.28L1010.99 344.69L1012 344.06L1013 343.36L1014 342.56L1015 341.7L1016 340.81L1017 339.92L1018 339.06L1018.99 338.21L1019.96 337.35L1020.94 336.48L1021.93 335.64L1022.94 334.82L1024 334.06L1025.09 333.36L1026.19 332.7L1027.31 332.07L1028.48 331.47L1029.71 330.89L1031 330.31L1032.37 329.74L1033.81 329.18L1035.31 328.63L1036.85 328.11L1038.42 327.63L1040 327.19L1041.54 326.82L1043.04 326.52L1044.56 326.25L1046.19 325.98L1047.97 325.68L1050 325.31L1052.5 324.83L1055.48 324.25L1058.62 323.63L1061.63 323.04L1064.19 322.54L1066 322.19" fill="none" stroke="#c9d0c0" stroke-width="1.3" stroke-linejoin="round" stroke-linecap="butt"/>
<path d="M925 324.38L926.88 324.69L929.52 325.13L932.62 325.64L935.89 326.21L939.02 326.8L941.7 327.38L943.91 327.98L945.88 328.64L947.71 329.32L949.49 329.99L951.32 330.6L953.3 331.12L955.43 331.57L957.64 331.96L959.89 332.3L962.17 332.58L964.45 332.82L966.7 333L969 333.07L971.39 333.01L973.77 332.91L976.06 332.82L978.17 332.83L980 333L981.52 333.34L982.79 333.78L983.87 334.31L984.84 334.93L985.76 335.62L986.7 336.38L987.63 337.22L988.49 338.18L989.31 339.21L990.1 340.28L990.89 341.34L991.7 342.38L992.54 343.41L993.39 344.49L994.24 345.56L995.09 346.6L995.91 347.55L996.7 348.38L997.45 349.08L998.16 349.69L998.85 350.23L999.54 350.68L1000.25 351.06L1001 351.38L1001.78 351.63L1002.58 351.83L1003.39 351.96L1004.23 352L1005.1 351.93L1006 351.75L1006.94 351.43L1007.93 351L1008.94 350.46L1009.96 349.83L1010.99 349.13L1012 348.38L1013 347.53L1014 346.57L1015 345.54L1016 344.47L1017 343.41L1018 342.38L1018.99 341.36L1019.96 340.32L1020.94 339.28L1021.93 338.26L1022.94 337.29L1024 336.38L1025.09 335.53L1026.19 334.74L1027.31 333.98L1028.48 333.26L1029.71 332.56L1031 331.88L1032.37 331.19L1033.81 330.51L1035.31 329.86L1036.85 329.24L1038.42 328.65L1040 328.12L1041.54 327.68L1043.04 327.32L1044.56 327L1046.19 326.68L1047.97 326.32L1050 325.88L1052.5 325.29L1055.48 324.6L1058.62 323.86L1061.63 323.15L1064.19 322.55L1066 322.12" fill="none" stroke="#c4cbba" stroke-width="1.3" stroke-linejoin="round" stroke-linecap="butt"/>
<path d="M925 324.69L926.88 325.06L929.52 325.56L932.62 326.16L935.89 326.83L939.02 327.51L941.7 328.19L943.91 328.89L945.88 329.66L947.71 330.46L949.49 331.23L951.32 331.95L953.3 332.56L955.43 333.08L957.64 333.53L959.89 333.93L962.17 334.26L964.45 334.54L966.7 334.75L969 334.83L971.39 334.77L973.77 334.64L976.06 334.54L978.17 334.55L980 334.75L981.52 335.14L982.79 335.66L983.87 336.28L984.84 337L985.76 337.81L986.7 338.69L987.63 339.68L988.49 340.79L989.31 342L990.1 343.24L990.89 344.49L991.7 345.69L992.54 346.89L993.39 348.15L994.24 349.41L995.09 350.61L995.91 351.72L996.7 352.69L997.45 353.51L998.16 354.23L998.85 354.85L999.54 355.38L1000.25 355.82L1001 356.19L1001.78 356.49L1002.58 356.72L1003.39 356.87L1004.23 356.92L1005.1 356.84L1006 356.62L1006.94 356.26L1007.93 355.75L1008.94 355.12L1009.96 354.39L1010.99 353.57L1012 352.69L1013 351.7L1014 350.58L1015 349.38L1016 348.13L1017 346.89L1018 345.69L1018.99 344.5L1019.96 343.29L1020.94 342.08L1021.93 340.89L1022.94 339.75L1024 338.69L1025.09 337.7L1026.19 336.78L1027.31 335.9L1028.48 335.06L1029.71 334.24L1031 333.44L1032.37 332.64L1033.81 331.85L1035.31 331.09L1036.85 330.36L1038.42 329.68L1040 329.06L1041.54 328.54L1043.04 328.12L1044.56 327.75L1046.19 327.38L1047.97 326.96L1050 326.44L1052.5 325.76L1055.48 324.95L1058.62 324.09L1061.63 323.26L1064.19 322.56L1066 322.06" fill="none" stroke="#bec6b3" stroke-width="1.3" stroke-linejoin="round" stroke-linecap="butt"/>
<clipPath id="cb"><rect x="900" y="50" width="254.9" height="346"/></clipPath><g clip-path="url(#cb)">
<path d="M1083.3 312L1085.98 311.63L1088.66 311.21L1091.28 310.56L1093.77 309.52L1096.11 308.14L1098.31 306.58L1100.43 304.89L1102.49 303.13L1104.5 301.31L1106.44 299.43L1108.31 297.48L1110.09 295.43L1111.78 293.32L1113.39 291.14L1114.94 288.92L1116.43 286.66L1117.86 284.37L1119.24 282.03L1120.56 279.67L1121.83 277.28L1123.04 274.85L1124.2 272.41L1125.34 269.95L1126.45 267.48L1127.54 265.01L1128.63 262.53L1129.72 260.05L1130.81 257.57L1131.91 255.1L1132.99 252.62L1134.07 250.13L1135.14 247.64L1136.2 245.16L1137.27 242.67L1138.35 240.18L1139.44 237.7L1140.53 235.23L1141.65 232.76L1142.78 230.3L1143.91 227.84L1145.06 225.39L1146.21 222.94L1147.36 220.49L1148.51 218.04L1149.67 215.59L1150.83 213.14L1151.99 210.7L1153.14 208.25L1154.3 205.8" fill="none" stroke="#d4e4ee" stroke-width="2.6" stroke-linejoin="round" stroke-linecap="butt"/>
<path d="M1083.3 311.55L1086.05 311.14L1088.76 310.61L1091.38 309.8L1093.85 308.61L1096.17 307.11L1098.36 305.43L1100.46 303.63L1102.48 301.75L1104.44 299.81L1106.35 297.81L1108.18 295.74L1109.93 293.59L1111.6 291.38L1113.2 289.12L1114.74 286.81L1116.23 284.47L1117.66 282.09L1119.04 279.68L1120.36 277.24L1121.64 274.77L1122.87 272.28L1124.06 269.77L1125.22 267.24L1126.35 264.7L1127.47 262.16L1128.58 259.61L1129.69 257.07L1130.81 254.52L1131.92 251.98L1133.03 249.43L1134.13 246.88L1135.22 244.32L1136.31 241.76L1137.39 239.2L1138.48 236.65L1139.58 234.09L1140.68 231.54L1141.78 229L1142.9 226.46L1144.03 223.92L1145.16 221.38L1146.3 218.85L1147.44 216.32L1148.58 213.79L1149.72 211.26L1150.86 208.73L1152.01 206.2L1153.15 203.67L1154.29 201.14" fill="none" stroke="#cfdce0" stroke-width="2.6" stroke-linejoin="round" stroke-linecap="butt"/>
<path d="M1083.3 311.1L1086.11 310.66L1088.86 310.02L1091.47 309.04L1093.93 307.71L1096.23 306.08L1098.41 304.28L1100.48 302.36L1102.46 300.36L1104.39 298.3L1106.26 296.18L1108.05 294.01L1109.77 291.76L1111.42 289.45L1113.01 287.09L1114.54 284.7L1116.02 282.27L1117.45 279.81L1118.83 277.32L1120.17 274.8L1121.46 272.27L1122.71 269.7L1123.92 267.12L1125.09 264.53L1126.25 261.92L1127.4 259.31L1128.53 256.7L1129.67 254.08L1130.8 251.47L1131.94 248.86L1133.07 246.24L1134.19 243.62L1135.31 241L1136.42 238.37L1137.52 235.74L1138.62 233.11L1139.71 230.49L1140.82 227.86L1141.92 225.23L1143.03 222.61L1144.15 220L1145.27 217.38L1146.4 214.77L1147.52 212.15L1148.64 209.54L1149.77 206.93L1150.9 204.32L1152.03 201.7L1153.15 199.09L1154.28 196.48" fill="none" stroke="#c9d3d3" stroke-width="2.6" stroke-linejoin="round" stroke-linecap="butt"/>
<path d="M1083.3 310.65L1086.18 310.18L1088.96 309.42L1091.56 308.28L1094.01 306.81L1096.3 305.05L1098.46 303.14L1100.5 301.1L1102.45 298.98L1104.34 296.8L1106.16 294.56L1107.92 292.27L1109.61 289.92L1111.24 287.51L1112.81 285.06L1114.34 282.58L1115.82 280.07L1117.25 277.53L1118.63 274.96L1119.98 272.37L1121.28 269.76L1122.55 267.13L1123.77 264.48L1124.97 261.81L1126.15 259.14L1127.32 256.46L1128.48 253.78L1129.64 251.1L1130.8 248.42L1131.95 245.73L1133.11 243.05L1134.25 240.36L1135.39 237.67L1136.52 234.98L1137.64 232.28L1138.75 229.58L1139.85 226.88L1140.96 224.17L1142.06 221.47L1143.16 218.77L1144.27 216.07L1145.38 213.38L1146.49 210.68L1147.6 207.99L1148.71 205.29L1149.82 202.6L1150.93 199.9L1152.05 197.21L1153.16 194.51L1154.27 191.82" fill="none" stroke="#c4cbc5" stroke-width="2.6" stroke-linejoin="round" stroke-linecap="butt"/>
<path d="M1083.3 310.2L1086.25 309.7L1089.06 308.83L1091.65 307.53L1094.09 305.9L1096.36 304.03L1098.5 301.99L1100.52 299.83L1102.44 297.59L1104.29 295.29L1106.07 292.94L1107.79 290.54L1109.45 288.08L1111.06 285.58L1112.62 283.04L1114.14 280.47L1115.61 277.87L1117.04 275.25L1118.43 272.61L1119.78 269.94L1121.1 267.25L1122.38 264.55L1123.63 261.83L1124.85 259.1L1126.06 256.36L1127.25 253.62L1128.43 250.87L1129.61 248.12L1130.79 245.37L1131.97 242.61L1133.14 239.86L1134.31 237.11L1135.48 234.35L1136.63 231.59L1137.76 228.82L1138.88 226.04L1139.99 223.27L1141.1 220.49L1142.2 217.71L1143.29 214.93L1144.39 212.15L1145.49 209.37L1146.59 206.6L1147.68 203.82L1148.78 201.04L1149.87 198.27L1150.97 195.49L1152.07 192.71L1153.16 189.94L1154.26 187.16" fill="none" stroke="#bfc3b7" stroke-width="2.6" stroke-linejoin="round" stroke-linecap="butt"/>
<path d="M1083.3 309.75L1086.31 309.22L1089.16 308.23L1091.75 306.77L1094.17 305L1096.43 303L1098.55 300.84L1100.54 298.56L1102.43 296.2L1104.23 293.79L1105.98 291.32L1107.66 288.8L1109.29 286.24L1110.88 283.64L1112.43 281.01L1113.93 278.36L1115.4 275.68L1116.83 272.97L1118.23 270.25L1119.59 267.51L1120.92 264.75L1122.22 261.97L1123.49 259.19L1124.73 256.39L1125.96 253.58L1127.18 250.77L1128.38 247.95L1129.59 245.13L1130.79 242.31L1131.98 239.49L1133.18 236.67L1134.38 233.85L1135.56 231.03L1136.73 228.19L1137.88 225.36L1139.02 222.51L1140.13 219.66L1141.24 216.8L1142.34 213.95L1143.42 211.09L1144.51 208.23L1145.6 205.37L1146.68 202.51L1147.76 199.65L1148.84 196.79L1149.93 193.94L1151.01 191.08L1152.09 188.22L1153.17 185.36L1154.25 182.5" fill="none" stroke="#b9baaa" stroke-width="2.6" stroke-linejoin="round" stroke-linecap="butt"/>
<path d="M1083.3 309.3L1086.38 308.73L1089.26 307.63L1091.84 306.01L1094.25 304.09L1096.49 301.97L1098.6 299.7L1100.56 297.3L1102.42 294.82L1104.18 292.28L1105.88 289.69L1107.53 287.07L1109.13 284.4L1110.7 281.71L1112.23 278.99L1113.73 276.24L1115.2 273.48L1116.63 270.7L1118.03 267.89L1119.4 265.08L1120.74 262.24L1122.05 259.4L1123.34 256.54L1124.61 253.67L1125.86 250.8L1127.1 247.92L1128.33 245.04L1129.56 242.15L1130.78 239.26L1132 236.37L1133.22 233.48L1134.44 230.59L1135.65 227.7L1136.84 224.8L1138.01 221.89L1139.15 218.97L1140.27 216.05L1141.38 213.12L1142.47 210.18L1143.55 207.24L1144.63 204.31L1145.7 201.37L1146.78 198.43L1147.84 195.49L1148.91 192.55L1149.98 189.6L1151.04 186.66L1152.11 183.72L1153.17 180.78L1154.24 177.84" fill="none" stroke="#b4b29c" stroke-width="2.6" stroke-linejoin="round" stroke-linecap="butt"/>
<path d="M1083.3 308.85L1086.45 308.25L1089.36 307.04L1091.93 305.25L1094.32 303.19L1096.56 300.94L1098.65 298.55L1100.58 296.03L1102.4 293.43L1104.13 290.78L1105.79 288.07L1107.4 285.33L1108.97 282.56L1110.52 279.77L1112.04 276.96L1113.53 274.13L1114.99 271.28L1116.42 268.42L1117.83 265.54L1119.2 262.64L1120.56 259.74L1121.89 256.82L1123.2 253.9L1124.49 250.96L1125.77 248.02L1127.03 245.07L1128.29 242.12L1129.53 239.17L1130.77 236.21L1132.01 233.25L1133.25 230.29L1134.5 227.34L1135.73 224.38L1136.94 221.41L1138.13 218.43L1139.28 215.44L1140.41 212.44L1141.52 209.43L1142.61 206.42L1143.68 203.4L1144.75 200.38L1145.81 197.36L1146.87 194.34L1147.93 191.32L1148.98 188.3L1150.03 185.27L1151.08 182.25L1152.13 179.23L1153.18 176.2L1154.23 173.18" fill="none" stroke="#a2a68b" stroke-width="2.6" stroke-linejoin="round" stroke-linecap="butt"/>
<path d="M1083.3 308.4L1086.51 307.77L1089.46 306.44L1092.02 304.49L1094.4 302.29L1096.62 299.91L1098.69 297.4L1100.61 294.77L1102.39 292.05L1104.08 289.27L1105.7 286.45L1107.27 283.6L1108.82 280.72L1110.34 277.84L1111.85 274.93L1113.33 272.02L1114.79 269.09L1116.22 266.14L1117.62 263.18L1119.01 260.21L1120.38 257.23L1121.73 254.25L1123.05 251.25L1124.37 248.25L1125.67 245.24L1126.96 242.22L1128.24 239.2L1129.51 236.18L1130.77 233.16L1132.03 230.13L1133.29 227.11L1134.56 224.08L1135.82 221.06L1137.05 218.02L1138.25 214.97L1139.42 211.91L1140.55 208.83L1141.66 205.75L1142.75 202.66L1143.81 199.56L1144.87 196.46L1145.92 193.36L1146.97 190.26L1148.01 187.15L1149.04 184.05L1150.08 180.94L1151.11 177.84L1152.15 174.73L1153.18 171.62L1154.22 168.52" fill="none" stroke="#919a7a" stroke-width="2.6" stroke-linejoin="round" stroke-linecap="butt"/>
<path d="M1083.3 307.95L1086.58 307.29L1089.56 305.84L1092.12 303.73L1094.48 301.38L1096.68 298.88L1098.74 296.25L1100.63 293.5L1102.38 290.66L1104.02 287.76L1105.6 284.83L1107.14 281.86L1108.66 278.89L1110.16 275.9L1111.66 272.91L1113.13 269.9L1114.58 266.89L1116.01 263.86L1117.42 260.82L1118.82 257.78L1120.2 254.73L1121.56 251.67L1122.91 248.61L1124.25 245.53L1125.57 242.46L1126.88 239.38L1128.19 236.29L1129.48 233.2L1130.76 230.11L1132.04 227.01L1133.33 223.92L1134.62 220.83L1135.9 217.73L1137.16 214.63L1138.37 211.51L1139.55 208.37L1140.69 205.22L1141.8 202.06L1142.89 198.89L1143.94 195.72L1144.99 192.54L1146.03 189.36L1147.06 186.17L1148.09 182.99L1149.11 179.8L1150.13 176.61L1151.15 173.42L1152.17 170.23L1153.18 167.05L1154.21 163.86" fill="none" stroke="#808f69" stroke-width="2.6" stroke-linejoin="round" stroke-linecap="butt"/>
<path d="M1000 318.57L1001.8 318.48L1003.6 318.39L1005.4 318.31L1007.2 318.2L1009 318.07L1010.79 317.9L1012.57 317.69L1014.32 317.42L1016.05 317.12L1017.77 316.78L1019.48 316.43L1021.18 316.05L1022.87 315.66L1024.56 315.26L1026.26 314.86L1027.95 314.46L1029.65 314.07L1031.35 313.67L1033.04 313.28L1034.73 312.89L1036.43 312.5L1038.12 312.11L1039.81 311.72L1041.51 311.34L1043.22 310.96L1044.92 310.59L1046.64 310.23L1048.35 309.88L1050.08 309.54L1051.82 309.23L1053.57 308.94L1055.34 308.7L1057.14 308.55L1058.93 308.48L1060.71 308.5L1062.44 308.61L1064.1 308.79L1065.71 308.99L1067.31 309.21L1068.9 309.43L1070.48 309.65L1072.03 309.89L1073.57 310.14L1075.11 310.38L1076.66 310.62L1078.25 310.85L1079.9 311.05L1081.59 311.21L1083.3 311.36" fill="none" stroke="#d2d6cc" stroke-width="1.2" stroke-linejoin="round" stroke-linecap="butt"/>
<path d="M1000 318.64L1001.9 318.55L1003.8 318.47L1005.7 318.39L1007.59 318.27L1009.48 318.1L1011.36 317.87L1013.21 317.54L1015.02 317.12L1016.78 316.63L1018.52 316.09L1020.23 315.53L1021.94 314.94L1023.63 314.33L1025.31 313.71L1027 313.09L1028.7 312.48L1030.4 311.87L1032.1 311.26L1033.79 310.65L1035.48 310.04L1037.17 309.43L1038.86 308.82L1040.55 308.22L1042.25 307.62L1043.96 307.03L1045.68 306.46L1047.4 305.9L1049.14 305.35L1050.89 304.82L1052.67 304.33L1054.47 303.89L1056.32 303.54L1058.21 303.38L1060.1 303.36L1061.95 303.51L1063.7 303.85L1065.32 304.32L1066.85 304.84L1068.35 305.38L1069.82 305.94L1071.27 306.5L1072.68 307.08L1074.05 307.67L1075.42 308.26L1076.82 308.85L1078.3 309.41L1079.9 309.9L1081.59 310.32L1083.3 310.71" fill="none" stroke="#cbd0c3" stroke-width="1.2" stroke-linejoin="round" stroke-linecap="butt"/>
<path d="M1000 318.71L1002 318.61L1003.99 318.55L1005.99 318.47L1007.98 318.34L1009.97 318.13L1011.93 317.83L1013.86 317.39L1015.71 316.81L1017.51 316.14L1019.27 315.41L1020.99 314.63L1022.69 313.82L1024.38 313L1026.07 312.16L1027.75 311.32L1029.44 310.49L1031.15 309.67L1032.85 308.85L1034.54 308.03L1036.22 307.2L1037.91 306.37L1039.59 305.54L1041.28 304.71L1042.99 303.9L1044.7 303.11L1046.43 302.33L1048.17 301.56L1049.93 300.82L1051.71 300.1L1053.52 299.44L1055.37 298.84L1057.29 298.39L1059.28 298.2L1061.27 298.24L1063.19 298.53L1064.97 299.09L1066.54 299.85L1067.99 300.69L1069.38 301.56L1070.74 302.45L1072.07 303.35L1073.33 304.27L1074.54 305.2L1075.74 306.14L1076.99 307.07L1078.35 307.96L1079.9 308.74L1081.58 309.43L1083.3 310.07" fill="none" stroke="#c4cabb" stroke-width="1.2" stroke-linejoin="round" stroke-linecap="butt"/>
<path d="M1000 318.79L1002.09 318.68L1004.19 318.63L1006.28 318.55L1008.37 318.4L1010.45 318.16L1012.51 317.79L1014.51 317.25L1016.41 316.51L1018.24 315.65L1020.01 314.72L1021.75 313.73L1023.45 312.71L1025.14 311.67L1026.82 310.61L1028.5 309.55L1030.19 308.51L1031.89 307.48L1033.6 306.45L1035.29 305.4L1036.97 304.35L1038.65 303.3L1040.33 302.25L1042.02 301.21L1043.72 300.18L1045.45 299.18L1047.19 298.19L1048.94 297.23L1050.71 296.28L1052.52 295.38L1054.37 294.54L1056.27 293.79L1058.27 293.23L1060.35 293.03L1062.43 293.12L1064.44 293.54L1066.24 294.33L1067.77 295.38L1069.13 296.54L1070.42 297.74L1071.66 298.96L1072.86 300.19L1073.98 301.45L1075.02 302.74L1076.06 304.03L1077.15 305.3L1078.4 306.51L1079.91 307.59L1081.58 308.54L1083.3 309.43" fill="none" stroke="#bec5b3" stroke-width="1.2" stroke-linejoin="round" stroke-linecap="butt"/>
<path d="M1000 318.86L1002.19 318.75L1004.38 318.71L1006.58 318.63L1008.76 318.47L1010.94 318.19L1013.08 317.76L1015.15 317.1L1017.11 316.21L1018.97 315.16L1020.76 314.03L1022.5 312.83L1024.21 311.6L1025.9 310.33L1027.57 309.06L1029.24 307.78L1030.94 306.52L1032.64 305.28L1034.35 304.04L1036.04 302.78L1037.72 301.51L1039.39 300.24L1041.07 298.97L1042.75 297.71L1044.46 296.47L1046.19 295.25L1047.94 294.06L1049.71 292.89L1051.5 291.75L1053.33 290.66L1055.22 289.65L1057.18 288.74L1059.24 288.07L1061.42 287.86L1063.6 288L1065.68 288.56L1067.5 289.57L1068.99 290.91L1070.27 292.39L1071.45 293.92L1072.58 295.47L1073.66 297.04L1074.63 298.64L1075.51 300.27L1076.38 301.91L1077.32 303.52L1078.46 305.07L1079.91 306.44L1081.57 307.64L1083.3 308.79" fill="none" stroke="#b7bfab" stroke-width="1.2" stroke-linejoin="round" stroke-linecap="butt"/>
<path d="M1000 318.93L1002.29 318.82L1004.58 318.79L1006.87 318.71L1009.15 318.54L1011.42 318.23L1013.65 317.72L1015.8 316.95L1017.81 315.91L1019.7 314.68L1021.51 313.34L1023.26 311.93L1024.97 310.48L1026.65 309L1028.32 307.51L1029.99 306.01L1031.68 304.54L1033.39 303.09L1035.1 301.63L1036.79 300.15L1038.46 298.67L1040.13 297.17L1041.8 295.68L1043.49 294.2L1045.19 292.75L1046.93 291.33L1048.69 289.93L1050.48 288.56L1052.29 287.22L1054.15 285.94L1056.07 284.75L1058.08 283.69L1060.22 282.92L1062.49 282.68L1064.76 282.88L1066.92 283.57L1068.77 284.81L1070.21 286.45L1071.41 288.24L1072.49 290.09L1073.5 291.98L1074.45 293.88L1075.27 295.83L1075.99 297.81L1076.69 299.79L1077.48 301.75L1078.51 303.62L1079.91 305.29L1081.57 306.75L1083.3 308.14" fill="none" stroke="#b0b9a2" stroke-width="1.2" stroke-linejoin="round" stroke-linecap="butt"/>
</g>
<path d="M1154 90L1142 134L1130 167" fill="none" stroke="#cfe3c8" stroke-width="1.6" />
<path d="M1000 319C1002.78 318.62 1011.15 319.58 1016.7 316.7C1022.25 313.82 1028.3 306.43 1033.3 301.7C1038.3 296.97 1042.8 291.92 1046.7 288.3C1050.6 284.68 1053.93 281.8 1056.7 280C1059.47 278.2 1061.08 277.5 1063.3 277.5C1065.52 277.5 1068.05 277.92 1070 280C1071.95 282.08 1073.62 286.38 1075 290C1076.38 293.62 1076.92 298.78 1078.3 301.7C1079.68 304.62 1081.35 306.95 1083.3 307.5C1085.25 308.05 1087.22 307.37 1090 305C1092.78 302.63 1096.62 298.58 1100 293.3C1103.38 288.02 1106.8 280.52 1110.3 273.3C1113.8 266.08 1117.45 258.05 1121 250C1124.55 241.95 1128.2 233.33 1131.6 225C1135 216.67 1137.63 210.97 1141.4 200C1145.17 189.03 1152.07 166 1154.2 159.2" fill="none" stroke="#6e8358" stroke-width="2.2" stroke-linejoin="round" stroke-linecap="butt"/>
<path d="M925 325C927.78 325.67 936.98 327.5 941.7 329C946.42 330.5 949.13 332.75 953.3 334C957.47 335.25 962.25 336.08 966.7 336.5C971.15 336.92 976.67 335.75 980 336.5C983.33 337.25 984.75 338.92 986.7 341C988.65 343.08 990.03 346.33 991.7 349C993.37 351.67 995.15 355 996.7 357C998.25 359 999.45 360.25 1001 361C1002.55 361.75 1004.17 362.17 1006 361.5C1007.83 360.83 1010 359.08 1012 357C1014 354.92 1016 351.67 1018 349C1020 346.33 1021.83 343.33 1024 341C1026.17 338.67 1028.33 336.83 1031 335C1033.67 333.17 1036.83 331.33 1040 330C1043.17 328.67 1045.67 328.33 1050 327C1054.33 325.67 1063.33 322.83 1066 322" fill="none" stroke="#8fa07c" stroke-width="2" stroke-linejoin="round" stroke-linecap="butt"/>
<path d="M800.8 320.8C817.33 320.58 866.8 319.88 900 319.5C933.2 319.12 980.55 318.83 1000 318.5C1019.45 318.17 1011.15 317.95 1016.7 317.5C1022.25 317.05 1027.75 316.35 1033.3 315.8C1038.85 315.25 1044.43 314.67 1050 314.2C1055.57 313.73 1061.15 313.37 1066.7 313C1072.25 312.63 1078.95 312.5 1083.3 312C1087.65 311.5 1089.63 311.45 1092.8 310C1095.97 308.55 1099.13 306.08 1102.3 303.3C1105.47 300.52 1108.63 297.47 1111.8 293.3C1114.97 289.13 1118.07 284.4 1121.3 278.3C1124.53 272.2 1127.85 264.2 1131.2 256.7C1134.55 249.2 1137.55 241.78 1141.4 233.3C1145.25 224.82 1152.15 210.38 1154.3 205.8" fill="none" stroke="#0000ff" stroke-width="3.1" stroke-linejoin="round" stroke-linecap="butt"/>
<path d="M1154.5 206.2C1152.47 210.97 1146 226.08 1142.3 234.8C1138.6 243.52 1135.6 250.88 1132.3 258.5C1129 266.12 1125.75 274.08 1122.5 280.5C1119.25 286.92 1116.55 292 1112.8 297C1109.05 302 1103.8 307.08 1100 310.5C1096.2 313.92 1093.33 315.78 1090 317.5C1086.67 319.22 1083.88 320.1 1080 320.8C1076.12 321.5 1071.7 321.42 1066.7 321.7C1061.7 321.98 1055.57 322.17 1050 322.5C1044.43 322.83 1038.85 323.33 1033.3 323.7C1027.75 324.07 1022.25 324.62 1016.7 324.7C1011.15 324.78 1011.12 324.48 1000 324.2C988.88 323.92 966.67 323.37 950 323C933.33 322.63 924.87 322.25 900 322C875.13 321.75 817.33 321.58 800.8 321.5" fill="none" stroke="#0000ff" stroke-width="3.1" stroke-linejoin="round" stroke-linecap="butt"/>
<path d="M1154.2 97.5C1152.18 104.25 1146.07 125.58 1142.1 138C1138.13 150.42 1134.48 160.75 1130.4 172C1126.32 183.25 1121.23 195.58 1117.6 205.5C1113.97 215.42 1111.53 223.33 1108.6 231.5C1105.67 239.67 1102.82 247.25 1100 254.5C1097.18 261.75 1094.48 268.53 1091.7 275C1088.92 281.47 1086.08 288.02 1083.3 293.3C1080.52 298.58 1077.77 302.8 1075 306.7C1072.23 310.6 1069.75 314.07 1066.7 316.7C1063.65 319.33 1060.03 320.98 1056.7 322.5C1053.37 324.02 1050.03 324.68 1046.7 325.8C1043.37 326.92 1039.48 327.95 1036.7 329.2C1033.92 330.45 1032.23 331.5 1030 333.3C1027.77 335.1 1025.52 337.5 1023.3 340C1021.08 342.5 1018.92 345.93 1016.7 348.3C1014.48 350.67 1011.95 352.8 1010 354.2C1008.05 355.6 1006.67 356.7 1005 356.7C1003.33 356.7 1001.38 355.32 1000 354.2C998.62 353.08 998.08 352.08 996.7 350C995.32 347.92 993.37 344.07 991.7 341.7C990.03 339.33 988.65 337.2 986.7 335.8C984.75 334.4 983.33 333.65 980 333.3C976.67 332.95 971.15 333.97 966.7 333.7C962.25 333.43 957.47 332.73 953.3 331.7C949.13 330.67 946.42 328.75 941.7 327.5C936.98 326.25 931.95 324.95 925 324.2C918.05 323.45 920.7 323.28 900 323C879.3 322.72 817.33 322.58 800.8 322.5" fill="none" stroke="#ff0000" stroke-width="2.8" stroke-linejoin="round" stroke-linecap="butt"/>
<path d="M800.8 322.5C817.33 322.33 866.8 321.92 900 321.5C933.2 321.08 980.55 320.38 1000 320C1019.45 319.62 1012.25 319.75 1016.7 319.2C1021.15 318.65 1023.37 317.95 1026.7 316.7C1030.03 315.45 1033.37 313.65 1036.7 311.7C1040.03 309.75 1043.37 307.78 1046.7 305C1050.03 302.22 1053.37 298.62 1056.7 295C1060.03 291.38 1063.93 285.8 1066.7 283.3C1069.47 280.8 1071.08 280.97 1073.3 280C1075.52 279.03 1077.77 278.47 1080 277.5C1082.23 276.53 1084.75 275.73 1086.7 274.2C1088.65 272.67 1089.48 272.25 1091.7 268.3C1093.92 264.35 1097.18 257.17 1100 250.5C1102.82 243.83 1105.5 236.43 1108.6 228.3C1111.7 220.17 1114.98 211.25 1118.6 201.7C1122.22 192.15 1126.4 181.7 1130.3 171C1134.2 160.3 1138.02 149.75 1142 137.5C1145.98 125.25 1152.17 104.17 1154.2 97.5" fill="none" stroke="#ff0000" stroke-width="2.8" stroke-linejoin="round" stroke-linecap="butt"/>
<text transform="translate(1044 203.7) scale(1 1.05)" font-size="23" fill="#ff0000">1.48 V</text>
<text transform="translate(1003 267) scale(1 1.05)" font-size="23" fill="#008000">1.46 V</text>
<line x1="1073" y1="275" x2="1086.84" y2="224.47" stroke="#ff0000" stroke-width="2.6"/><polygon points="1090.8,210 1091.42,225.72 1086.84,224.47 1082.26,223.21" fill="#ff0000"/>
<line x1="1165.3" y1="206.7" x2="1169.24" y2="169.12" stroke="#ff8000" stroke-width="3.2"/><polygon points="1170.8,154.2 1173.96,169.61 1169.24,169.12 1164.51,168.62" fill="#ff8000"/>
<path d="M1157.5 152.5C1170 145 1180 134 1181 119C1181.5 109 1178 100 1171 96" fill="none" stroke="#ff00ff" stroke-width="3"/>
<polygon points="1160.3,92.5 1175.5,94.5 1172,102.5" fill="#ff00ff" stroke="#ff00ff" stroke-width="1" stroke-linejoin="round"/></g>
<g><line x1="113.25" y1="887.73" x2="552.75" y2="887.73" stroke="#000" stroke-width="1.3"/>
<path d="M157.2 889.6C172.67 889.38 226.2 888.7 250 888.3C273.8 887.9 286.67 887.67 300 887.2C313.33 886.73 321.67 886.15 330 885.5C338.33 884.85 345 884.08 350 883.3C355 882.52 357.22 882.18 360 880.8C362.78 879.42 364.48 877.92 366.7 875C368.92 872.08 371.08 868.02 373.3 863.3C375.52 858.58 377.77 852.53 380 846.7C382.23 840.87 384.48 833.87 386.7 828.3C388.92 822.73 391.08 817.47 393.3 813.3C395.52 809.13 398.05 805.47 400 803.3C401.95 801.13 403.33 800.15 405 800.3C406.67 800.45 408.33 801.47 410 804.2C411.67 806.93 413.33 812.68 415 816.7C416.67 820.72 418.05 824.42 420 828.3C421.95 832.18 424.48 836.67 426.7 840C428.92 843.33 430.8 845.93 433.3 848.3C435.8 850.67 438.92 852.8 441.7 854.2C444.48 855.6 447.23 856.35 450 856.7C452.77 857.05 455.52 856.87 458.3 856.3C461.08 855.73 463.63 854.9 466.7 853.3C469.77 851.7 473.37 849.47 476.7 846.7C480.03 843.93 483.37 840.32 486.7 836.7C490.03 833.08 493.23 829.32 496.7 825C500.17 820.68 505.7 813.17 507.5 810.8" fill="none" stroke="#0000ff" stroke-width="2.7" stroke-linejoin="round" stroke-linecap="butt"/>
<path d="M157.2 889.8C172.67 889.58 226.2 888.88 250 888.5C273.8 888.12 286.67 887.87 300 887.5C313.33 887.13 321.67 886.77 330 886.3C338.33 885.83 344.45 885.33 350 884.7C355.55 884.07 359.68 883.98 363.3 882.5C366.92 881.02 369.2 878.72 371.7 875.8C374.2 872.88 376.08 869.58 378.3 865C380.52 860.42 382.77 854.13 385 848.3C387.23 842.47 389.48 836.38 391.7 830C393.92 823.62 396.08 816.38 398.3 810C400.52 803.62 402.77 797.25 405 791.7C407.23 786.15 409.48 781.02 411.7 776.7C413.92 772.38 416.22 768.17 418.3 765.8C420.38 763.43 422.38 762.35 424.2 762.5C426.02 762.65 427.68 763.78 429.2 766.7C430.72 769.62 432.2 775 433.3 780C434.4 785 434.97 791.15 435.8 796.7C436.63 802.25 437.32 807.75 438.3 813.3C439.28 818.85 440.45 825.55 441.7 830C442.95 834.45 444.28 837.22 445.8 840C447.32 842.78 448.98 845.25 450.8 846.7C452.62 848.15 454.62 848.85 456.7 848.7C458.78 848.55 460.8 847.8 463.3 845.8C465.8 843.8 468.92 840.45 471.7 836.7C474.48 832.95 477.23 828.3 480 823.3C482.77 818.3 485.52 812.53 488.3 806.7C491.08 800.87 493.5 795.8 496.7 788.3C499.9 780.8 505.7 766.13 507.5 761.7" fill="none" stroke="#008000" stroke-width="2.7" stroke-linejoin="round" stroke-linecap="butt"/>
<path d="M157.2 891.5C164.33 891.3 184.53 890.68 200 890.3C215.47 889.92 233.33 889.55 250 889.2C266.67 888.85 286.67 888.52 300 888.2C313.33 887.88 321.67 887.62 330 887.3C338.33 886.98 343.88 886.82 350 886.3C356.12 885.78 362.25 885.25 366.7 884.2C371.15 883.15 373.37 882.08 376.7 880C380.03 877.92 383.37 875.58 386.7 871.7C390.03 867.82 393.65 862.27 396.7 856.7C399.75 851.13 402.23 844.97 405 838.3C407.77 831.63 410.8 823.37 413.3 816.7C415.8 810.03 417.77 804.13 420 798.3C422.23 792.47 424.48 786.42 426.7 781.7C428.92 776.98 431.08 772.58 433.3 770C435.52 767.42 438.05 766.67 440 766.2C441.95 765.73 443.33 767.12 445 767.2C446.67 767.28 448.28 767.9 450 766.7C451.72 765.5 453.75 762.78 455.3 760C456.85 757.22 458.03 753.33 459.3 750C460.57 746.67 461.65 743.62 462.9 740C464.15 736.38 463.4 738.58 466.8 728.3C470.2 718.02 476.52 699.4 483.3 678.3C490.08 657.2 503.47 614.47 507.5 601.7" fill="none" stroke="#ff0000" stroke-width="2.7" stroke-linejoin="round" stroke-linecap="butt"/>
<line x1="379.9" y1="900" x2="473" y2="732.6" stroke="#ff00ff" stroke-width="3.5" stroke-dasharray="3.6 10.7"/>
<line x1="416.4" y1="899.5" x2="487.8" y2="823" stroke="#ff8000" stroke-width="3.5" stroke-dasharray="3.6 10.7"/>
<line x1="444.7" y1="886.2" x2="515.3" y2="810.1" stroke="#808080" stroke-width="3.5" stroke-dasharray="3.6 10.7"/>
<text transform="translate(480.8 878.5) scale(1 1.05)" font-size="23" fill="#808080">1.52 V</text>
<text transform="translate(421.7 916) scale(1 1.05)" font-size="23" fill="#ff8000">1.48 V</text>
<text transform="translate(310 912.5) scale(1 1.05)" font-size="23" fill="#ff00ff">1.39 V</text></g>
<g><path d="M806.5 888C809.87 888.22 817.23 889.05 826.7 889.3C836.17 889.55 854.13 889.58 863.3 889.5C872.47 889.42 872.53 889.23 881.7 888.8C890.87 888.37 906.08 887.82 918.3 886.9C930.52 885.98 945.83 884.52 955 883.3C964.17 882.08 967.8 881.13 973.3 879.6C978.8 878.07 984.02 876.23 988 874.1C991.98 871.97 994.87 869.15 997.2 866.8C999.53 864.45 1000.7 862.25 1002 860C1003.3 857.75 1003.95 857.18 1005 853.3C1006.05 849.42 1007.33 843.08 1008.3 836.7C1009.27 830.32 1010.02 822.78 1010.8 815C1011.58 807.22 1012.3 798.33 1013 790C1013.7 781.67 1014.12 774.45 1015 765C1015.88 755.55 1017.18 744.13 1018.3 733.3C1019.42 722.47 1020.58 708.05 1021.7 700C1022.82 691.95 1023.9 688.33 1025 685C1026.1 681.67 1027.18 680.28 1028.3 680C1029.42 679.72 1030.58 679.97 1031.7 683.3C1032.82 686.63 1034.03 693.05 1035 700C1035.97 706.95 1036.67 716.67 1037.5 725C1038.33 733.33 1039.33 743.33 1040 750C1040.67 756.67 1040.95 760.28 1041.5 765C1042.05 769.72 1042.43 773.58 1043.3 778.3C1044.17 783.02 1045.58 789.27 1046.7 793.3C1047.82 797.33 1048.62 800 1050 802.5C1051.38 805 1052.78 806.63 1055 808.3C1057.22 809.97 1060.52 811.33 1063.3 812.5C1066.08 813.67 1068.92 814.67 1071.7 815.3C1074.48 815.93 1077.5 816.35 1080 816.3C1082.5 816.25 1084.48 815.77 1086.7 815C1088.92 814.23 1091.08 812.95 1093.3 811.7C1095.52 810.45 1097.5 809.17 1100 807.5C1102.5 805.83 1105.52 804.33 1108.3 801.7C1111.08 799.07 1113.92 795.32 1116.7 791.7C1119.48 788.08 1122.23 783.75 1125 780C1127.77 776.25 1130.52 772.53 1133.3 769.2C1136.08 765.87 1138.22 762.98 1141.7 760C1145.18 757.02 1152.12 752.75 1154.2 751.3" fill="none" stroke="#0000ff" stroke-width="2.7" stroke-linejoin="round" stroke-linecap="butt"/>
<path d="M806.5 888.2C809.87 888.4 817.23 889.17 826.7 889.4C836.17 889.63 852.62 889.7 863.3 889.6C873.98 889.5 883.15 889.33 890.8 888.8C898.45 888.27 903.08 887.48 909.2 886.4C915.32 885.32 921.4 883.43 927.5 882.3C933.6 881.17 940.6 879.9 945.8 879.6C951 879.3 954.12 880.1 958.7 880.5C963.28 880.9 969.03 882 973.3 882C977.57 882 980.63 881.52 984.3 880.5C987.97 879.48 992.35 877.65 995.3 875.9C998.25 874.15 1000.22 871.82 1002 870C1003.78 868.18 1004.67 867.78 1006 865C1007.33 862.22 1008.78 858.02 1010 853.3C1011.22 848.58 1012.33 843.08 1013.3 836.7C1014.27 830.32 1015.02 822.78 1015.8 815C1016.58 807.22 1017.3 798.33 1018 790C1018.7 781.67 1019.25 773.05 1020 765C1020.75 756.95 1021.38 751.42 1022.5 741.7C1023.62 731.98 1025.32 717.27 1026.7 706.7C1028.08 696.13 1029.42 685.8 1030.8 678.3C1032.18 670.8 1033.75 665.25 1035 661.7C1036.25 658.15 1037.18 657 1038.3 657C1039.42 657 1040.45 658.15 1041.7 661.7C1042.95 665.25 1044.55 672.2 1045.8 678.3C1047.05 684.4 1048.22 691.9 1049.2 698.3C1050.18 704.7 1050.87 709.47 1051.7 716.7C1052.53 723.93 1053.6 735.03 1054.2 741.7C1054.8 748.37 1054.88 750.87 1055.3 756.7C1055.72 762.53 1056.05 770.03 1056.7 776.7C1057.35 783.37 1058.23 792.27 1059.2 796.7C1060.17 801.13 1060.98 801.7 1062.5 803.3C1064.02 804.9 1066.22 805.47 1068.3 806.3C1070.38 807.13 1072.92 807.82 1075 808.3C1077.08 808.78 1078.85 809.33 1080.8 809.2C1082.75 809.07 1084.75 808.62 1086.7 807.5C1088.65 806.38 1090.57 805.13 1092.5 802.5C1094.43 799.87 1096.22 796.28 1098.3 791.7C1100.38 787.12 1102.77 780.75 1105 775C1107.23 769.25 1109.75 762.27 1111.7 757.2C1113.65 752.13 1114.77 749.37 1116.7 744.6C1118.63 739.83 1120.8 734.37 1123.3 728.6C1125.8 722.83 1128.92 715.32 1131.7 710C1134.48 704.68 1137.5 700.03 1140 696.7C1142.5 693.37 1144.33 692.23 1146.7 690C1149.07 687.77 1152.95 684.42 1154.2 683.3" fill="none" stroke="#008000" stroke-width="2.7" stroke-linejoin="round" stroke-linecap="butt"/>
<path d="M806.5 887.8C809.87 888.05 817.23 888.98 826.7 889.3C836.17 889.62 851.08 889.7 863.3 889.7C875.52 889.7 887.77 889.62 900 889.3C912.23 888.98 927.53 888.28 936.7 887.8C945.87 887.32 948.9 887.07 955 886.4C961.1 885.73 967.8 884.78 973.3 883.8C978.8 882.82 983.55 881.72 988 880.5C992.45 879.28 996.88 877.67 1000 876.5C1003.12 875.33 1004.48 875 1006.7 873.5C1008.92 872 1011.37 870.03 1013.3 867.5C1015.23 864.97 1016.63 862.33 1018.3 858.3C1019.97 854.27 1021.77 848.57 1023.3 843.3C1024.83 838.03 1026.1 832.8 1027.5 826.7C1028.9 820.6 1030.32 813.37 1031.7 806.7C1033.08 800.03 1034.42 793.93 1035.8 786.7C1037.18 779.47 1038.68 771.08 1040 763.3C1041.32 755.52 1042.45 749.17 1043.7 740C1044.95 730.83 1046.32 716.35 1047.5 708.3C1048.68 700.25 1049.68 695.45 1050.8 691.7C1051.92 687.95 1053.08 685.95 1054.2 685.8C1055.32 685.65 1056.4 687.88 1057.5 690.8C1058.6 693.72 1059.68 698.43 1060.8 703.3C1061.92 708.17 1063.08 715.55 1064.2 720C1065.32 724.45 1066.4 729.45 1067.5 730C1068.6 730.55 1069.55 726.92 1070.8 723.3C1072.05 719.68 1073.47 713.3 1075 708.3C1076.53 703.3 1078.05 698.3 1080 693.3C1081.95 688.3 1084.48 682.73 1086.7 678.3C1088.92 673.87 1090.8 670.58 1093.3 666.7C1095.8 662.82 1098.92 658.33 1101.7 655C1104.48 651.67 1107.5 649.2 1110 646.7C1112.5 644.2 1113.92 641.95 1116.7 640C1119.48 638.05 1123.37 636.53 1126.7 635C1130.03 633.47 1133.93 632.05 1136.7 630.8C1139.47 629.55 1141.63 628.47 1143.3 627.5C1144.97 626.53 1145.58 625.28 1146.7 625C1147.82 624.72 1148.75 625.85 1150 625.8C1151.25 625.75 1153.5 624.88 1154.2 624.7" fill="none" stroke="#ff0000" stroke-width="2.7" stroke-linejoin="round" stroke-linecap="butt"/>
<text transform="translate(1057 631.3) scale(1 1.05)" font-size="23" fill="#ff0000">1.43 V</text>
<text transform="translate(984.5 652.5) scale(1 1.05)" font-size="23" fill="#008000">1.39 V</text>
<text transform="translate(946.5 688) scale(1 1.05)" font-size="23" fill="#0000ff">1.37 V</text>
<line x1="1058.3" y1="675.3" x2="1071.22" y2="651.95" stroke="#ff0000" stroke-width="2.6"/><polygon points="1078,639.7 1075.38,654.25 1071.22,651.95 1067.07,649.65" fill="#ff0000"/></g>
<g><path d="M357.5 1505L375.4 1505L375.4 1485.2L375.4 1505L393.75 1505L393.75 1495.6L393.75 1503.3L411.9 1503.3L411.9 1487.3L412.5 1492.5L430.2 1494.6L430.2 1473.75L431.2 1477.5L447.9 1479.6L447.9 1450.8L466.25 1449.8L466.25 1413.3L484.4 1410.8L484.4 1370.6L503.1 1366.5L503.1 1323.3L520.8 1319.6L520.8 1363.3L538.5 1358.1L538.5 1399.8L557.3 1399.2L557.3 1437.3L575.6 1436.7L575.6 1468.5L594 1468.5L594 1493.5L594.5 1489.6L612.1 1489.4L612.1 1508L612.6 1503.3L630.8 1503.3L630.8 1513.3L630.8 1505L649 1505L649 1517.5L649 1505L666.9 1505L666.9 1565.7" fill="none" stroke="#0000ff" stroke-width="2.4" stroke-linejoin="miter" stroke-linecap="butt"/>
<path d="M669.8 1496.7L670.3 1505L688.1 1505L688.1 1485.2L688.1 1505L706.5 1505L706.5 1492.5L725 1492.1L725 1458L727 1455.5L742.9 1452.9L742.9 1409.6L761 1408.1L761 1361L779.4 1361L779.4 1314.8L797.1 1313L797.1 1263.75L815.2 1261.5L815.2 1214.8L833.5 1214.8L833.5 1260.6L851.7 1260.6L851.7 1308.5L870 1308.5L870 1356.5L888.3 1356.5L888.3 1402.8L906.6 1402.8L906.6 1448L925 1448L925 1488L943 1488L943 1512L943 1505.5L961.4 1505.5L961.4 1514.7" fill="none" stroke="#f04040" stroke-width="2.4" stroke-linejoin="miter" stroke-linecap="butt"/>
<path d="M466.65 1412.24L467.03 1412.82L467.41 1413.4L467.79 1413.22L468.17 1413.23L468.55 1412.59L468.93 1413.28L469.31 1412.69L469.69 1411.74L470.07 1412.45L470.45 1411.59L470.83 1413.31L471.21 1413.29L471.59 1412.02L471.97 1411.93L472.35 1412.8L472.73 1411.62L473.11 1411.53L473.49 1411.5L473.87 1411.77L474.25 1412.28L474.63 1412.91L475.01 1411.36L475.39 1412.8L475.77 1411.96L476.15 1412.6L476.53 1412.39L476.91 1411.03L477.29 1411.96L477.67 1410.86L478.05 1410.58L478.43 1411.31L478.81 1412.02L479.19 1411.56L479.57 1410.77L479.95 1412.02L480.33 1412.12L480.71 1410.72L481.09 1411.1L481.47 1411.43L481.85 1411.91L482.23 1410.32L482.61 1411.12L482.99 1411.91L483.37 1411.14L483.75 1411.31L484.13 1411.38" fill="none" stroke="#0000ff" stroke-width="1.9" stroke-linejoin="round"/>
<path d="M484.8 1370.79L485.18 1369.4L485.56 1371.95L485.94 1371.73L486.32 1370.1L486.7 1370.69L487.08 1369.08L487.46 1369.03L487.84 1369.18L488.22 1370.48L488.6 1368.77L488.98 1371.27L489.36 1368.13L489.74 1368.47L490.12 1368.04L490.5 1370.28L490.88 1368.83L491.26 1369.11L491.64 1368.54L492.02 1369.52L492.4 1368.65L492.78 1367.91L493.16 1368.58L493.54 1368.08L493.92 1367.34L494.3 1369.69L494.68 1369.12L495.06 1368.99L495.44 1369.66L495.82 1367.92L496.2 1367.79L496.58 1367.86L496.96 1367.72L497.34 1368.54L497.72 1366.22L498.1 1367.69L498.48 1367.86L498.86 1367.14L499.24 1365.96L499.62 1368.2L500 1365.76L500.38 1367.57L500.76 1366.1L501.14 1365.62L501.52 1366.04L501.9 1365.57L502.28 1365.78L502.66 1367.52" fill="none" stroke="#0000ff" stroke-width="1.9" stroke-linejoin="round"/>
<path d="M503.5 1322.03L503.88 1324.19L504.26 1321.97L504.64 1324.49L505.02 1323.91L505.4 1322.75L505.78 1323.79L506.16 1323.46L506.54 1320.87L506.92 1323.12L507.3 1323.47L507.68 1322.91L508.06 1324.56L508.44 1323.78L508.82 1321.98L509.2 1321.18L509.58 1320.62L509.96 1323.82L510.34 1323.16L510.72 1322.69L511.1 1321.8L511.48 1322.01L511.86 1320.59L512.24 1321.98L512.62 1320.05L513 1322.26L513.38 1322.22L513.76 1322.33L514.14 1320.21L514.52 1319.39L514.9 1320.46L515.28 1322.09L515.66 1321.15L516.04 1322.21L516.42 1320.61L516.8 1320.37L517.18 1322.73L517.56 1319.1L517.94 1319.21L518.32 1320.96L518.7 1321.08L519.08 1320.05L519.46 1320.57L519.84 1319.92L520.22 1320.93L520.6 1321.91" fill="none" stroke="#0000ff" stroke-width="1.9" stroke-linejoin="round"/>
<path d="M521.2 1364.23L521.58 1362.27L521.96 1363.13L522.34 1363.1L522.72 1361.14L523.1 1360.56L523.48 1362.36L523.86 1360.55L524.24 1361.4L524.62 1363.14L525 1362.99L525.38 1360.19L525.76 1359.98L526.14 1360.39L526.52 1362.49L526.9 1359.51L527.28 1360.15L527.66 1359.64L528.04 1359.62L528.42 1360.96L528.8 1359.65L529.18 1360.38L529.56 1361.46L529.94 1361.34L530.32 1360.14L530.7 1361.39L531.08 1360.54L531.46 1361.37L531.84 1359.2L532.22 1359.55L532.6 1360.22L532.98 1361.45L533.36 1360.19L533.74 1359.58L534.12 1358.69L534.5 1358.72L534.88 1358.39L535.26 1361.08L535.64 1360.64L536.02 1360.58L536.4 1359.18L536.78 1359.74L537.16 1358.17L537.54 1358.75L537.92 1357.46L538.3 1358.36" fill="none" stroke="#0000ff" stroke-width="1.9" stroke-linejoin="round"/>
<path d="M538.9 1400.89L539.28 1400.67L539.66 1400.32L540.04 1399.1L540.42 1399.33L540.8 1400.24L541.18 1400.45L541.56 1398.54L541.94 1398.89L542.32 1400.63L542.7 1398.75L543.08 1400.03L543.46 1399.23L543.84 1399.98L544.22 1400.49L544.6 1399.8L544.98 1399.33L545.36 1399.15L545.74 1399.86L546.12 1399.86L546.5 1399.33L546.88 1399.45L547.26 1399.61L547.64 1398.93L548.02 1398.73L548.4 1399.65L548.78 1398.51L549.16 1399.69L549.54 1400.17L549.92 1400.22L550.3 1398.83L550.68 1399.21L551.06 1400.42L551.44 1399.03L551.82 1400.55L552.2 1398.64L552.58 1400.17L552.96 1398.24L553.34 1399.73L553.72 1400.05L554.1 1399.42L554.48 1399.61L554.86 1400.27L555.24 1400.46L555.62 1398.48L556 1399.3L556.38 1398.13L556.76 1398.93" fill="none" stroke="#0000ff" stroke-width="1.9" stroke-linejoin="round"/>
<path d="M557.7 1437.97L558.08 1437L558.46 1437.79L558.84 1438.06L559.22 1436.9L559.6 1437.71L559.98 1436.91L560.36 1436.59L560.74 1436.91L561.12 1437.63L561.5 1436.53L561.88 1437.44L562.26 1436.87L562.64 1436.53L563.02 1436.99L563.4 1436.9L563.78 1437.02L564.16 1437.76L564.54 1437.82L564.92 1436.56L565.3 1437.92L565.68 1437.23L566.06 1437.84L566.44 1437.57L566.82 1437.03L567.2 1436.53L567.58 1437.74L567.96 1437.85L568.34 1437.16L568.72 1436.24L569.1 1437.49L569.48 1437.38L569.86 1437.57L570.24 1437.73L570.62 1437.72L571 1437.28L571.38 1436.64L571.76 1436.88L572.14 1436.82L572.52 1437.27L572.9 1437.02L573.28 1437.36L573.66 1436.79L574.04 1436.91L574.42 1437.57L574.8 1437.25L575.18 1437.49" fill="none" stroke="#0000ff" stroke-width="1.9" stroke-linejoin="round"/>
<path d="M448.3 1451.07L448.68 1451.32L449.06 1450.06L449.44 1451.33L449.82 1451.14L450.2 1450.05L450.58 1451.08L450.96 1451.06L451.34 1450.18L451.72 1451.25L452.1 1450.38L452.48 1450.48L452.86 1450.74L453.24 1450.78L453.62 1450.83L454 1450.16L454.38 1450.42L454.76 1449.92L455.14 1450.09L455.52 1450.37L455.9 1449.77L456.28 1450.13L456.66 1450.76L457.04 1449.85L457.42 1450.19L457.8 1449.61L458.18 1450.57L458.56 1449.66L458.94 1449.75L459.32 1450.52L459.7 1450.08L460.08 1450.21L460.46 1450.27L460.84 1450.09L461.22 1449.97L461.6 1449.57L461.98 1449.53L462.36 1449.6L462.74 1449.63L463.12 1449.72L463.5 1450.5L463.88 1449.53L464.26 1449.39L464.64 1449.56L465.02 1449.35L465.4 1450.31L465.78 1450.46" fill="none" stroke="#0000ff" stroke-width="1.9" stroke-linejoin="round"/>
<path d="M743.3 1410.34L743.68 1410.08L744.06 1409.11L744.44 1408.64L744.82 1409.33L745.2 1409.01L745.58 1410.05L745.96 1408.68L746.34 1409.14L746.72 1409.42L747.1 1410.31L747.48 1409.16L747.86 1408.52L748.24 1409.82L748.62 1409.42L749 1408.36L749.38 1410.19L749.76 1410.37L750.14 1409.87L750.52 1410.11L750.9 1408.43L751.28 1409.58L751.66 1410.03L752.04 1409.41L752.42 1408.8L752.8 1407.74L753.18 1408.65L753.56 1409.12L753.94 1409.95L754.32 1410.08L754.7 1408.68L755.08 1409.75L755.46 1408.04L755.84 1409.54L756.22 1408.8L756.6 1407.28L756.98 1409.24L757.36 1408.32L757.74 1409.49L758.12 1409.03L758.5 1407.14L758.88 1408.5L759.26 1409.53L759.64 1407.76L760.02 1407.96L760.4 1409.47L760.78 1407.55" fill="none" stroke="#f04040" stroke-width="2" stroke-linejoin="round"/>
<path d="M761.4 1360.36L761.78 1363.47L762.16 1363.07L762.54 1360.8L762.92 1361.82L763.3 1361.59L763.68 1362.45L764.06 1363.02L764.44 1359.93L764.82 1359.61L765.2 1363.13L765.58 1361.33L765.96 1362.75L766.34 1359.37L766.72 1361.29L767.1 1362.48L767.48 1360.28L767.86 1363.4L768.24 1363.18L768.62 1359.31L769 1359.26L769.38 1361.5L769.76 1363.22L770.14 1360.73L770.52 1359.98L770.9 1360.85L771.28 1359.09L771.66 1359.91L772.04 1360.83L772.42 1361.05L772.8 1359.86L773.18 1359.82L773.56 1359.74L773.94 1360.77L774.32 1359.99L774.7 1358.78L775.08 1362.34L775.46 1361.07L775.84 1361.42L776.22 1359.38L776.6 1362.9L776.98 1362.28L777.36 1359L777.74 1359.9L778.12 1361.58L778.5 1361.5L778.88 1362.46" fill="none" stroke="#f04040" stroke-width="2" stroke-linejoin="round"/>
<path d="M779.8 1318.5L780.18 1318.4L780.56 1313.36L780.94 1313.47L781.32 1317.62L781.7 1317.01L782.08 1316.59L782.46 1314.51L782.84 1316.13L783.22 1316.08L783.6 1315.89L783.98 1313.47L784.36 1314.94L784.74 1314.68L785.12 1316.47L785.5 1317.94L785.88 1317.64L786.26 1315.32L786.64 1314.71L787.02 1313.67L787.4 1312.32L787.78 1312.22L788.16 1314.62L788.54 1313.74L788.92 1314.04L789.3 1316.85L789.68 1314.75L790.06 1314.89L790.44 1313.03L790.82 1311.79L791.2 1313.42L791.58 1312.31L791.96 1314.35L792.34 1317.04L792.72 1315.17L793.1 1312.36L793.48 1316.29L793.86 1315.7L794.24 1315.3L794.62 1316.21L795 1315.36L795.38 1315.46L795.76 1312.96L796.14 1316.42L796.52 1316.27L796.9 1311.73" fill="none" stroke="#f04040" stroke-width="2" stroke-linejoin="round"/>
<path d="M797.5 1263.26L797.88 1265.15L798.26 1263.98L798.64 1265.41L799.02 1265.49L799.4 1261.84L799.78 1261.44L800.16 1266.65L800.54 1262.89L800.92 1262.67L801.3 1267.48L801.68 1264.05L802.06 1266.33L802.44 1263.96L802.82 1264.94L803.2 1261.75L803.58 1264.79L803.96 1266.22L804.34 1263.95L804.72 1265.28L805.1 1264.77L805.48 1260.82L805.86 1265.2L806.24 1264.07L806.62 1262.15L807 1260.36L807.38 1265.64L807.76 1263.06L808.14 1264.57L808.52 1265.53L808.9 1264.41L809.28 1265.68L809.66 1262.25L810.04 1264.78L810.42 1262.44L810.8 1265.52L811.18 1265.09L811.56 1260.03L811.94 1260.21L812.32 1260.67L812.7 1265.39L813.08 1261.94L813.46 1263.1L813.84 1260.95L814.22 1262.21L814.6 1261.37L814.98 1261.08" fill="none" stroke="#f04040" stroke-width="2" stroke-linejoin="round"/>
<path d="M815.6 1214.57L815.98 1213.58L816.36 1215.66L816.74 1213.89L817.12 1213.22L817.5 1215.6L817.88 1219.29L818.26 1218.41L818.64 1218.13L819.02 1214.18L819.4 1216.42L819.78 1214.52L820.16 1213.74L820.54 1213.23L820.92 1213.97L821.3 1219.08L821.68 1218.34L822.06 1218.15L822.44 1218.07L822.82 1213.67L823.2 1214.48L823.58 1216.73L823.96 1217.45L824.34 1218.3L824.72 1218.46L825.1 1212.71L825.48 1216.42L825.86 1216.86L826.24 1215.64L826.62 1213.24L827 1215.34L827.38 1212.54L827.76 1218.6L828.14 1218.07L828.52 1215.75L828.9 1213.94L829.28 1218.29L829.66 1215.84L830.04 1218.04L830.42 1217.76L830.8 1215.28L831.18 1214.57L831.56 1215.87L831.94 1214.63L832.32 1212.66L832.7 1213.66L833.08 1217.29" fill="none" stroke="#f04040" stroke-width="2" stroke-linejoin="round"/>
<path d="M833.9 1261.8L834.28 1262.57L834.66 1262.92L835.04 1263.87L835.42 1262.59L835.8 1263.77L836.18 1258.06L836.56 1260.86L836.94 1263.93L837.32 1262.06L837.7 1263.68L838.08 1258.65L838.46 1260.94L838.84 1259.52L839.22 1261.44L839.6 1261.64L839.98 1258.06L840.36 1259.38L840.74 1259.79L841.12 1263.87L841.5 1262.92L841.88 1259.05L842.26 1263.14L842.64 1258.94L843.02 1262.01L843.4 1258.88L843.78 1258.09L844.16 1263.67L844.54 1259.44L844.92 1259.49L845.3 1264.41L845.68 1263.72L846.06 1260L846.44 1264.31L846.82 1261.62L847.2 1262.51L847.58 1259.5L847.96 1264.22L848.34 1262.63L848.72 1264.4L849.1 1263.95L849.48 1260.15L849.86 1260.56L850.24 1259.32L850.62 1259.2L851 1258.7L851.38 1260.22" fill="none" stroke="#f04040" stroke-width="2" stroke-linejoin="round"/>
<path d="M852.1 1310.14L852.48 1310.31L852.86 1308.57L853.24 1307.43L853.62 1306.09L854 1309.55L854.38 1308.56L854.76 1310.08L855.14 1308.09L855.52 1310.17L855.9 1307.6L856.28 1310.37L856.66 1310.01L857.04 1308.39L857.42 1309.05L857.8 1309.81L858.18 1307.29L858.56 1309.18L858.94 1310.5L859.32 1307.71L859.7 1310.53L860.08 1309.93L860.46 1310.77L860.84 1308.14L861.22 1306.9L861.6 1310.59L861.98 1310.63L862.36 1308.78L862.74 1306.97L863.12 1307.52L863.5 1309.82L863.88 1308.05L864.26 1311.5L864.64 1309.63L865.02 1307.63L865.4 1310.01L865.78 1308.49L866.16 1311.48L866.54 1311.38L866.92 1309.34L867.3 1310.03L867.68 1310.33L868.06 1310.9L868.44 1311.81L868.82 1306.9L869.2 1308.64L869.58 1309.91" fill="none" stroke="#f04040" stroke-width="2" stroke-linejoin="round"/>
<path d="M870.4 1356.1L870.78 1355.42L871.16 1357.43L871.54 1355.12L871.92 1356.99L872.3 1356.31L872.68 1355.09L873.06 1356.9L873.44 1355.03L873.82 1356.62L874.2 1355.17L874.58 1355.26L874.96 1356.61L875.34 1358.22L875.72 1355.42L876.1 1355.83L876.48 1357.45L876.86 1358.74L877.24 1357.27L877.62 1356.55L878 1358.88L878.38 1355.17L878.76 1358.43L879.14 1356.16L879.52 1355.59L879.9 1355.49L880.28 1356.26L880.66 1358.3L881.04 1355.76L881.42 1357.38L881.8 1357.61L882.18 1356.56L882.56 1357.27L882.94 1355.33L883.32 1355.33L883.7 1355.92L884.08 1357.83L884.46 1356.83L884.84 1356.38L885.22 1357.47L885.6 1356.95L885.98 1356.35L886.36 1358.34L886.74 1357.96L887.12 1356.15L887.5 1357.48L887.88 1357.29" fill="none" stroke="#f04040" stroke-width="2" stroke-linejoin="round"/>
<path d="M888.7 1402.29L889.08 1404.2L889.46 1402.03L889.84 1403.53L890.22 1401.92L890.6 1402.34L890.98 1404.3L891.36 1402.24L891.74 1403.37L892.12 1402.89L892.5 1402.88L892.88 1402.99L893.26 1402.2L893.64 1403.86L894.02 1401.93L894.4 1402.31L894.78 1401.75L895.16 1402.39L895.54 1402.76L895.92 1404.05L896.3 1402.69L896.68 1402L897.06 1402.37L897.44 1404.28L897.82 1401.86L898.2 1403.31L898.58 1402.68L898.96 1403.42L899.34 1402.58L899.72 1403.5L900.1 1402.99L900.48 1403.39L900.86 1404.04L901.24 1403.21L901.62 1402.07L902 1401.87L902.38 1404.16L902.76 1402.97L903.14 1402.2L903.52 1404.16L903.9 1403.21L904.28 1403.6L904.66 1403.99L905.04 1402.44L905.42 1402.63L905.8 1403.98L906.18 1402.05" fill="none" stroke="#f04040" stroke-width="2" stroke-linejoin="round"/>
<path d="M725.4 1454.9L725.78 1454.71L726.16 1454.29L726.54 1455.41L726.92 1454L727.3 1454.75L727.68 1455.34L728.06 1453.99L728.44 1454.7L728.82 1454.76L729.2 1453.8L729.58 1454.29L729.96 1454.77L730.34 1454.33L730.72 1454.72L731.1 1453.77L731.48 1453.86L731.86 1453.61L732.24 1454.2L732.62 1454.83L733 1454.25L733.38 1454.5L733.76 1453.84L734.14 1454.37L734.52 1453.3L734.9 1453.56L735.28 1454.13L735.66 1454.17L736.04 1453.64L736.42 1453.06L736.8 1453.31L737.18 1453.17L737.56 1453.25L737.94 1454.05L738.32 1453.03L738.7 1454.09L739.08 1454.03L739.46 1452.67L739.84 1453.15L740.22 1453.29L740.6 1452.49L740.98 1453.09L741.36 1453.82L741.74 1452.51L742.12 1453.24L742.5 1452.44" fill="none" stroke="#f04040" stroke-width="2" stroke-linejoin="round"/>
<path d="M907 1448.11L907.38 1447.89L907.76 1448.12L908.14 1447.53L908.52 1448.5L908.9 1448.52L909.28 1448.25L909.66 1447.46L910.04 1448.03L910.42 1447.72L910.8 1447.6L911.18 1448.72L911.56 1448.79L911.94 1447.27L912.32 1448.58L912.7 1448.17L913.08 1447.81L913.46 1447.65L913.84 1448.28L914.22 1447.93L914.6 1448.3L914.98 1448.26L915.36 1447.41L915.74 1448.43L916.12 1448.77L916.5 1448.75L916.88 1448.18L917.26 1447.27L917.64 1447.21L918.02 1447.41L918.4 1448.71L918.78 1447.68L919.16 1447.79L919.54 1448.64L919.92 1447.7L920.3 1448.08L920.68 1447.9L921.06 1447.3L921.44 1448.14L921.82 1448.55L922.2 1447.45L922.58 1447.56L922.96 1447.86L923.34 1447.26L923.72 1447.99L924.1 1448.51L924.48 1448.25" fill="none" stroke="#f04040" stroke-width="2" stroke-linejoin="round"/>
<line x1="455.8" y1="1415.8" x2="567.7" y2="1417.5" stroke="#ff8000" stroke-width="2.2"/>
<line x1="771" y1="1310.6" x2="882.9" y2="1312.7" stroke="#ff8000" stroke-width="2.2"/>
<line x1="570.4" y1="1399.8" x2="570.4" y2="1417.5" stroke="#ff00ff" stroke-width="4.6"/>
<line x1="572.9" y1="1394.6" x2="588.69" y2="1348.97" stroke="#ff00ff" stroke-width="3.8"/><polygon points="595.4,1329.6 594.84,1351.1 588.69,1348.97 582.55,1346.85" fill="#ff00ff"/>
<line x1="638.75" y1="1435.2" x2="657.08" y2="1470.83" stroke="#008080" stroke-width="5.1"/><polygon points="668.75,1493.5 649.08,1474.94 657.08,1470.83 665.08,1466.71" fill="#008080"/>
<line x1="359.4" y1="1497.7" x2="366.36" y2="1484.38" stroke="#000" stroke-width="3.7"/><polygon points="375.4,1467.1 372.35,1487.51 366.36,1484.38 360.38,1481.25" fill="#000"/>
<line x1="471.9" y1="1407.1" x2="460.52" y2="1388.37" stroke="#000" stroke-width="3.7"/><polygon points="450.4,1371.7 466.29,1384.86 460.52,1388.37 454.75,1391.87" fill="#000"/>
<line x1="555.2" y1="1394.6" x2="556.53" y2="1372.37" stroke="#000" stroke-width="3.7"/><polygon points="557.7,1352.9 563.27,1372.77 556.53,1372.37 549.8,1371.96" fill="#000"/>
<line x1="694.4" y1="1494.2" x2="700.49" y2="1469.72" stroke="#000" stroke-width="3.7"/><polygon points="705.2,1450.8 707.04,1471.35 700.49,1469.72 693.94,1468.09" fill="#000"/>
<line x1="787.1" y1="1305.4" x2="776.23" y2="1287.15" stroke="#000" stroke-width="3.7"/><polygon points="766.25,1270.4 782.03,1283.7 776.23,1287.15 770.43,1290.61" fill="#000"/>
<line x1="863.75" y1="1299.2" x2="876.17" y2="1283.57" stroke="#000" stroke-width="3.7"/><polygon points="888.3,1268.3 881.45,1287.77 876.17,1283.57 870.88,1279.37" fill="#000"/>
<text transform="translate(391.7 1467) rotate(-90) scale(1 1.08)" font-size="24.6">1.36 V</text>
<text transform="translate(450 1367) rotate(-90) scale(1 1.08)" font-size="24.6">1.96 V</text>
<text transform="translate(520.5 1312.5) rotate(-90) scale(1 1.08)" font-size="24.6">2.16 V</text>
<text transform="translate(568.3 1349.25) rotate(-90) scale(1 1.08)" font-size="24.6">1.96 V</text>
<text transform="translate(715.2 1447.2) rotate(-90) scale(1 1.08)" font-size="24.6">1.36 V</text>
<text transform="translate(770.6 1265.3) rotate(-90) scale(1 1.08)" font-size="24.6">1.96 V</text>
<text transform="translate(834.2 1202.8) rotate(-90) scale(1 1.08)" font-size="24.6">2.16 V</text>
<text transform="translate(903.75 1266.3) rotate(-90) scale(1 1.08)" font-size="24.6">1.96 V</text>
<text transform="translate(567.6 1288.6) scale(1 1.03)" font-size="25.5" fill="#ff00ff">The effect of</text>
<text transform="translate(574.8 1319.8) scale(1 1.03)" font-size="25.4" fill="#ff00ff">Fe impurity</text>
<text transform="translate(594.6 1392) scale(1 1.03)" font-size="25.7" fill="#008080">Adding</text>
<text transform="translate(603 1424) scale(1 1.03)" font-size="25.3" fill="#008080">Fe salt</text></g>
<rect x="357" y="1123.5" width="607.5" height="483.7" fill="none" stroke="#000" stroke-width="1.8"/>
<path d="M508.88 1607.2V1598.2M508.88 1123.5V1132.5M660.75 1607.2V1598.2M660.75 1123.5V1132.5M812.62 1607.2V1598.2M812.62 1123.5V1132.5M432.94 1607.2V1602.2M432.94 1123.5V1128.5M584.81 1607.2V1602.2M584.81 1123.5V1128.5M736.69 1607.2V1602.2M736.69 1123.5V1128.5M888.56 1607.2V1602.2M888.56 1123.5V1128.5M357 1556.28H366M964.5 1556.28H955.5M357 1505.37H366M964.5 1505.37H955.5M357 1454.45H366M964.5 1454.45H955.5M357 1403.54H366M964.5 1403.54H955.5M357 1352.62H366M964.5 1352.62H955.5M357 1301.71H366M964.5 1301.71H955.5M357 1250.79H366M964.5 1250.79H955.5M357 1199.87H366M964.5 1199.87H955.5M357 1148.96H366M964.5 1148.96H955.5M357 1581.74H362M964.5 1581.74H959.5M357 1530.83H362M964.5 1530.83H959.5M357 1479.91H362M964.5 1479.91H959.5M357 1428.99H362M964.5 1428.99H959.5M357 1378.08H362M964.5 1378.08H959.5M357 1327.16H362M964.5 1327.16H959.5M357 1276.25H362M964.5 1276.25H959.5M357 1225.33H362M964.5 1225.33H959.5M357 1174.42H362M964.5 1174.42H959.5" stroke="#000" stroke-width="1.6" fill="none"/>
<text transform="translate(357 1651) scale(1 1.065)" font-size="41" text-anchor="middle">0</text>
<text transform="translate(508.88 1651) scale(1 1.065)" font-size="41" text-anchor="middle">5000</text>
<text transform="translate(660.75 1651) scale(1 1.065)" font-size="41" text-anchor="middle">10000</text>
<text transform="translate(812.62 1651) scale(1 1.065)" font-size="41" text-anchor="middle">15000</text>
<text transform="translate(964.5 1651) scale(1 1.065)" font-size="41" text-anchor="middle">20000</text>
<text transform="translate(346.4 1620.2) scale(1 1.065)" font-size="41" text-anchor="end">-40</text>
<text transform="translate(346.4 1569.28) scale(1 1.065)" font-size="41" text-anchor="end">-20</text>
<text transform="translate(346.4 1518.37) scale(1 1.065)" font-size="41" text-anchor="end">0</text>
<text transform="translate(346.4 1467.45) scale(1 1.065)" font-size="41" text-anchor="end">20</text>
<text transform="translate(346.4 1416.54) scale(1 1.065)" font-size="41" text-anchor="end">40</text>
<text transform="translate(346.4 1365.62) scale(1 1.065)" font-size="41" text-anchor="end">60</text>
<text transform="translate(346.4 1314.71) scale(1 1.065)" font-size="41" text-anchor="end">80</text>
<text transform="translate(346.4 1263.79) scale(1 1.065)" font-size="41" text-anchor="end">100</text>
<text transform="translate(346.4 1212.87) scale(1 1.065)" font-size="41" text-anchor="end">120</text>
<text transform="translate(346.4 1161.96) scale(1 1.065)" font-size="41" text-anchor="end">140</text>
<text transform="translate(699.6 1698) scale(1 1.04)" font-size="42" text-anchor="middle">Time (s)</text>
<text transform="translate(267 1442) rotate(-90)" font-size="41">j <tspan font-size="25.3">(</tspan>mA/cm<tspan dy="-10.6" font-size="47">2</tspan><tspan dy="10.6" font-size="25.3">)</tspan></text>
<text transform="translate(197.2 1091.4) scale(1 0.965)" font-size="83">e</text>
</svg>
</body></html>
